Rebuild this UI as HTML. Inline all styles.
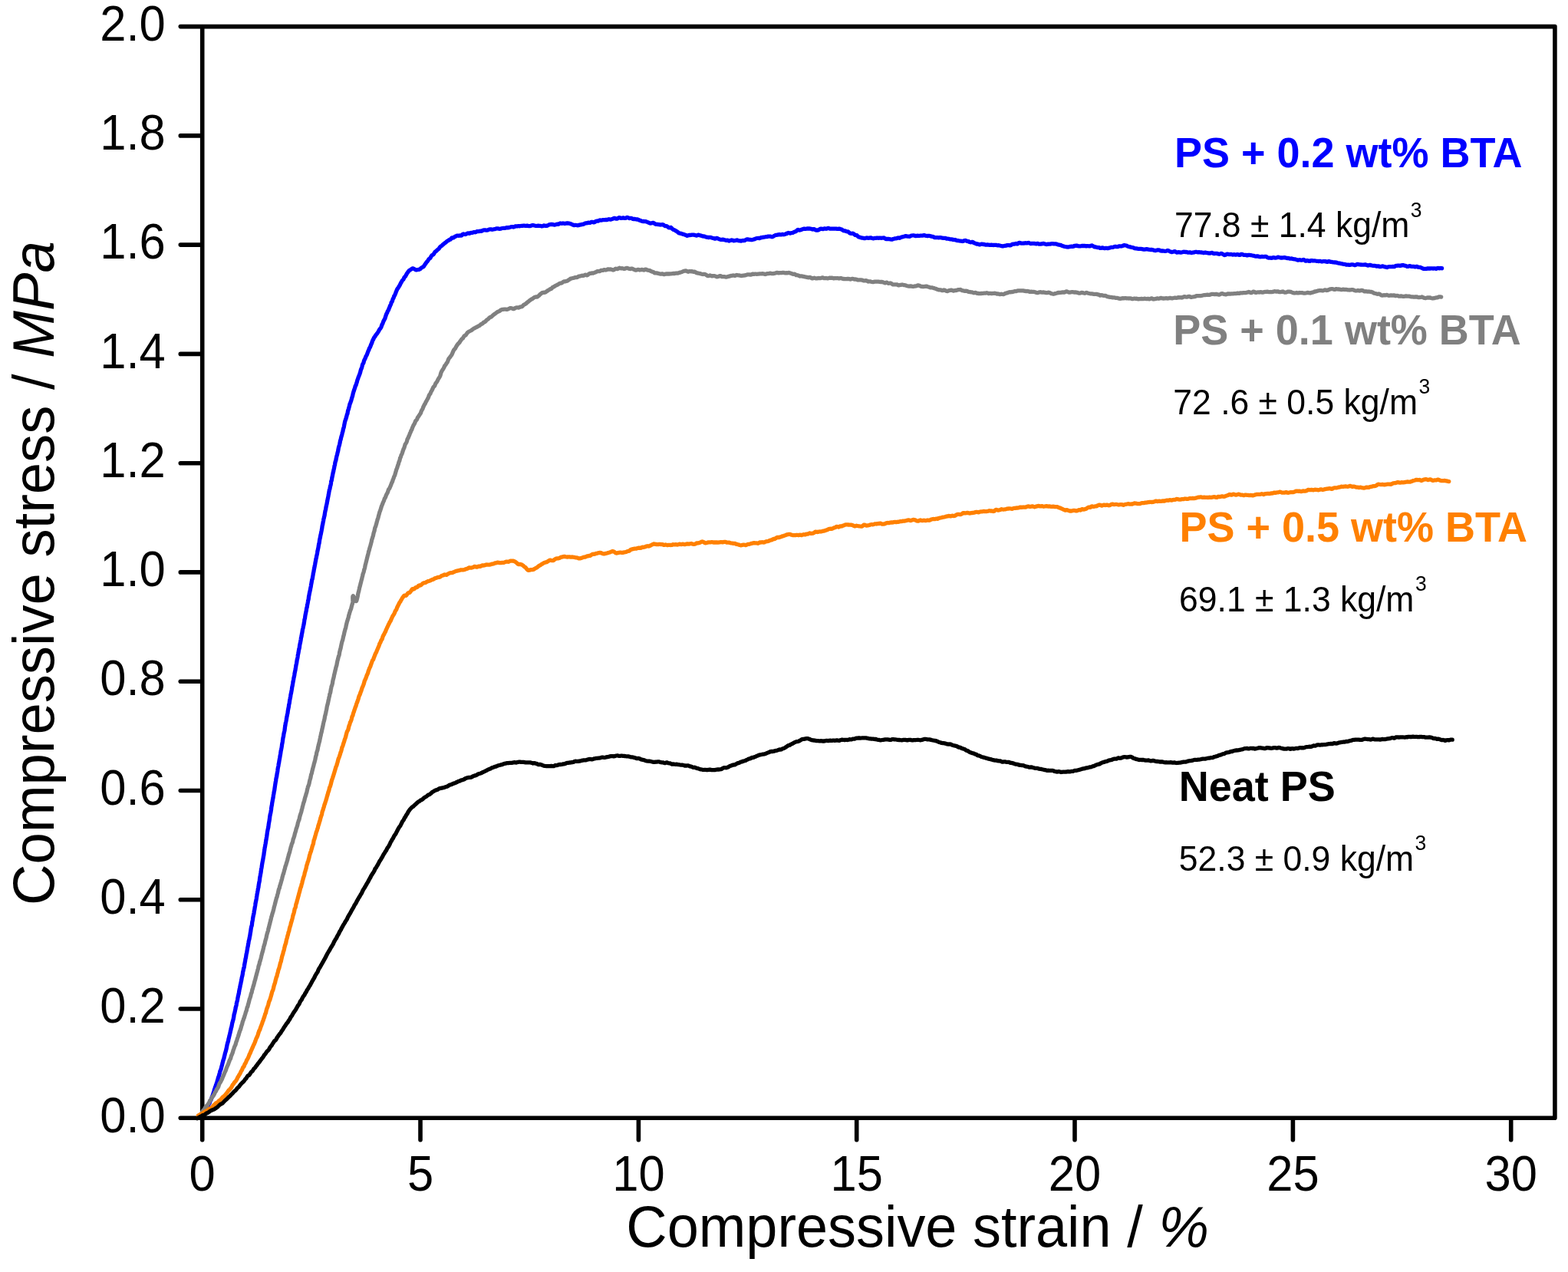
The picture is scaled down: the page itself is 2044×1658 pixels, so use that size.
<!DOCTYPE html>
<html lang="en">
<head>
<meta charset="utf-8">
<title>Compressive stress vs. compressive strain</title>
<style>
html,body{margin:0;padding:0;background:#fff;}
body{width:2044px;height:1658px;overflow:hidden;font-family:"Liberation Sans",sans-serif;}
svg{display:block;}
text{font-family:"Liberation Sans",sans-serif;fill:#000;}
.tick{font-size:61.5px;}
.ttl{font-size:73.9px;}
.lab{font-size:54.0px;font-weight:bold;}
.den{font-size:44.5px;}
.sup{font-size:26.5px;}
.it{font-style:italic;}
.ax{stroke:#000;stroke-width:5.6;fill:none;stroke-linecap:round;stroke-linejoin:round;}
.cv{fill:none;stroke-width:5.3;stroke-linejoin:round;stroke-linecap:round;}
</style>
</head>
<body>
<svg width="2044" height="1658" viewBox="0 0 2044 1658">
<rect x="0" y="0" width="2044" height="1658" fill="#ffffff"/>
<rect class="ax" x="263.7" y="34.6" width="1763.2" height="1422.7"/>
<g class="ax">
<line x1="235.3" y1="1457.3" x2="262.7" y2="1457.3"/>
<line x1="235.3" y1="1315.0" x2="262.7" y2="1315.0"/>
<line x1="235.3" y1="1172.8" x2="262.7" y2="1172.8"/>
<line x1="235.3" y1="1030.5" x2="262.7" y2="1030.5"/>
<line x1="235.3" y1="888.2" x2="262.7" y2="888.2"/>
<line x1="235.3" y1="745.9" x2="262.7" y2="745.9"/>
<line x1="235.3" y1="603.7" x2="262.7" y2="603.7"/>
<line x1="235.3" y1="461.4" x2="262.7" y2="461.4"/>
<line x1="235.3" y1="319.1" x2="262.7" y2="319.1"/>
<line x1="235.3" y1="176.9" x2="262.7" y2="176.9"/>
<line x1="235.3" y1="34.6" x2="262.7" y2="34.6"/>
<line x1="263.7" y1="1458.3" x2="263.7" y2="1485.7"/>
<line x1="548.0" y1="1458.3" x2="548.0" y2="1485.7"/>
<line x1="832.4" y1="1458.3" x2="832.4" y2="1485.7"/>
<line x1="1116.7" y1="1458.3" x2="1116.7" y2="1485.7"/>
<line x1="1401.0" y1="1458.3" x2="1401.0" y2="1485.7"/>
<line x1="1685.4" y1="1458.3" x2="1685.4" y2="1485.7"/>
<line x1="1969.7" y1="1458.3" x2="1969.7" y2="1485.7"/>
</g>
<g>
<path class="cv" stroke="#0000ff" d="M266.5,1450.9L267.0,1449.9L267.6,1448.2L268.1,1446.8L268.7,1446.2L269.2,1445.4L269.8,1444.3L270.3,1443.5L270.8,1442.4L271.4,1440.9L271.9,1439.7L272.4,1438.9L273.0,1438.3L273.5,1437.0L273.9,1435.4L274.4,1434.3L274.9,1433.9L275.3,1433.1L275.7,1431.5L276.2,1430.2L276.6,1429.3L277.0,1428.2L277.4,1427.3L277.7,1426.4L278.1,1425.0L278.5,1423.7L278.9,1422.5L279.3,1421.1L279.6,1419.8L280.0,1418.7L280.4,1417.5L280.8,1416.4L281.2,1415.3L281.5,1414.2L281.9,1413.2L282.3,1412.1L282.6,1411.2L283.0,1410.0L283.4,1408.6L283.7,1407.6L284.1,1406.3L284.4,1404.8L284.8,1403.8L285.1,1403.1L285.5,1401.9L285.8,1400.5L286.2,1399.4L286.5,1398.1L286.8,1396.5L287.2,1395.5L287.5,1395.0L287.8,1394.2L288.2,1393.1L288.5,1391.8L288.8,1390.4L289.1,1389.4L289.5,1388.2L289.8,1386.7L290.1,1385.5L290.4,1384.3L290.7,1383.1L291.0,1382.2L291.4,1380.9L291.7,1380.0L292.0,1379.2L292.3,1377.5L292.6,1376.3L292.9,1375.4L293.2,1373.8L293.5,1372.6L293.8,1371.8L294.1,1370.8L294.4,1369.7L294.7,1368.6L295.0,1367.6L295.2,1366.5L295.5,1364.9L295.8,1363.3L296.1,1361.7L296.4,1360.6L296.7,1359.7L297.0,1358.5L297.2,1358.0L297.5,1357.1L297.8,1355.2L298.1,1353.7L298.4,1352.9L298.6,1351.9L298.9,1350.5L299.2,1349.3L299.5,1348.1L299.7,1347.2L300.0,1346.2L300.3,1344.7L300.5,1343.6L300.8,1342.7L301.1,1341.4L301.3,1340.1L301.6,1339.2L301.9,1338.3L302.1,1337.0L302.4,1335.4L302.7,1333.7L302.9,1332.8L303.2,1332.1L303.5,1330.9L303.7,1329.9L304.0,1329.3L304.2,1328.2L304.5,1326.7L304.8,1325.2L305.0,1323.1L305.3,1321.8L305.5,1321.3L305.8,1320.4L306.0,1319.3L306.3,1318.1L306.5,1316.9L306.8,1315.8L307.1,1314.3L307.3,1312.8L307.6,1311.9L307.8,1311.2L308.1,1310.1L308.3,1308.4L308.6,1307.1L308.8,1306.0L309.1,1305.1L309.3,1304.4L309.6,1302.9L309.8,1301.4L310.0,1300.4L310.3,1299.2L310.5,1297.7L310.8,1296.8L311.0,1296.1L311.3,1294.9L311.5,1293.3L311.8,1291.9L312.0,1290.5L312.2,1289.3L312.5,1288.6L312.7,1287.6L313.0,1286.1L313.2,1284.5L313.4,1283.5L313.7,1282.7L313.9,1281.5L314.1,1280.3L314.4,1279.3L314.6,1278.2L314.9,1276.6L315.1,1275.2L315.3,1273.9L315.6,1272.9L315.8,1272.2L316.0,1271.2L316.3,1269.7L316.5,1268.0L316.7,1266.8L316.9,1265.9L317.2,1264.9L317.4,1263.7L317.6,1262.5L317.9,1261.8L318.1,1261.2L318.3,1260.1L318.5,1258.7L318.8,1257.1L319.0,1255.8L319.2,1254.5L319.5,1253.4L319.7,1252.0L319.9,1250.5L320.1,1249.5L320.4,1248.6L320.6,1247.5L320.8,1246.0L321.0,1244.6L321.2,1243.4L321.5,1242.4L321.7,1241.6L321.9,1240.4L322.1,1239.1L322.4,1237.6L322.6,1236.0L322.8,1234.8L323.0,1234.3L323.2,1233.4L323.4,1231.7L323.7,1230.4L323.9,1229.2L324.1,1227.6L324.3,1226.4L324.5,1225.7L324.8,1224.7L325.0,1223.8L325.2,1222.9L325.4,1221.6L325.6,1220.5L325.8,1219.8L326.0,1218.3L326.3,1216.3L326.5,1215.2L326.7,1214.3L326.9,1212.7L327.1,1211.2L327.3,1209.9L327.5,1208.7L327.7,1207.8L328.0,1207.2L328.2,1206.6L328.4,1205.5L328.6,1203.5L328.8,1201.8L329.0,1200.9L329.2,1200.0L329.4,1198.9L329.6,1197.4L329.8,1196.0L330.0,1194.9L330.3,1193.5L330.5,1192.5L330.7,1191.8L330.9,1191.0L331.1,1189.6L331.3,1187.8L331.5,1186.9L331.7,1186.1L331.9,1184.8L332.1,1183.5L332.3,1182.2L332.5,1181.3L332.7,1180.1L332.9,1178.5L333.1,1177.2L333.3,1176.2L333.5,1175.2L333.7,1174.3L333.9,1173.3L334.1,1172.3L334.3,1171.1L334.5,1169.5L334.8,1167.9L335.0,1166.5L335.2,1165.2L335.4,1164.3L335.6,1163.2L335.8,1162.0L336.0,1161.0L336.2,1159.8L336.4,1158.5L336.6,1157.6L336.8,1157.0L337.0,1155.7L337.2,1153.9L337.4,1152.5L337.6,1151.4L337.8,1150.5L338.0,1149.7L338.2,1148.7L338.4,1147.6L338.5,1146.3L338.7,1144.6L338.9,1143.2L339.1,1142.2L339.3,1141.2L339.5,1140.0L339.7,1138.9L339.9,1138.0L340.1,1136.8L340.3,1135.2L340.5,1133.4L340.7,1132.2L340.9,1131.6L341.1,1130.4L341.3,1128.8L341.5,1127.5L341.7,1126.2L341.9,1125.0L342.1,1124.0L342.3,1122.9L342.5,1121.9L342.7,1120.9L342.9,1119.8L343.1,1118.6L343.3,1117.4L343.5,1116.1L343.7,1115.2L343.9,1114.2L344.0,1113.0L344.2,1111.6L344.4,1110.2L344.6,1109.0L344.8,1107.8L345.0,1106.0L345.2,1104.7L345.4,1104.1L345.6,1102.8L345.8,1101.4L346.0,1100.5L346.2,1099.5L346.4,1098.3L346.6,1096.8L346.8,1095.5L347.0,1094.6L347.2,1093.4L347.3,1092.4L347.5,1091.6L347.7,1090.4L347.9,1088.9L348.1,1087.4L348.3,1086.0L348.5,1084.5L348.7,1083.4L348.9,1082.3L349.1,1081.2L349.3,1080.3L349.5,1079.5L349.7,1078.8L349.9,1077.4L350.1,1075.4L350.3,1074.2L350.4,1073.2L350.6,1072.3L350.8,1071.3L351.0,1070.2L351.2,1069.0L351.4,1067.7L351.6,1065.9L351.8,1064.1L352.0,1063.0L352.2,1062.2L352.4,1061.1L352.6,1060.2L352.8,1059.5L353.0,1058.4L353.2,1057.1L353.4,1056.0L353.6,1054.7L353.7,1053.2L353.9,1051.9L354.1,1050.6L354.3,1049.9L354.5,1048.8L354.7,1046.9L354.9,1045.7L355.1,1044.9L355.3,1043.6L355.5,1042.3L355.7,1041.6L355.9,1040.6L356.1,1039.5L356.3,1038.0L356.5,1036.3L356.7,1035.4L356.9,1034.4L357.1,1032.8L357.3,1031.7L357.5,1031.0L357.7,1030.1L357.9,1028.6L358.1,1027.2L358.2,1026.4L358.4,1025.1L358.6,1023.6L358.8,1022.4L359.0,1021.1L359.2,1019.7L359.4,1018.9L359.6,1017.9L359.8,1016.0L360.0,1014.5L360.2,1014.0L360.4,1013.3L360.6,1012.4L360.8,1011.2L361.0,1009.5L361.2,1008.3L361.4,1007.4L361.6,1006.5L361.8,1005.1L362.0,1003.2L362.2,1001.7L362.4,1000.6L362.6,999.6L362.8,998.8L363.0,997.6L363.2,996.1L363.4,995.1L363.6,994.4L363.8,993.1L364.0,991.7L364.2,990.6L364.4,989.5L364.6,988.5L364.8,987.4L365.0,986.0L365.2,984.8L365.4,983.8L365.6,982.7L365.8,981.4L366.0,979.9L366.2,978.5L366.5,977.3L366.7,976.1L366.9,975.2L367.1,974.1L367.3,972.9L367.5,971.4L367.7,969.9L367.9,969.0L368.1,968.2L368.3,966.9L368.5,965.3L368.7,963.9L368.9,962.5L369.1,961.2L369.3,960.8L369.5,959.9L369.7,958.3L369.9,956.8L370.1,955.7L370.3,955.0L370.5,953.9L370.8,952.9L371.0,952.0L371.2,950.4L371.4,948.5L371.6,947.1L371.8,946.1L372.0,944.8L372.2,943.3L372.4,942.1L372.6,941.4L372.8,940.6L373.0,939.7L373.2,938.7L373.4,937.4L373.7,935.5L373.9,934.2L374.1,933.6L374.3,932.4L374.5,931.1L374.7,930.4L374.9,929.7L375.1,928.3L375.3,926.7L375.5,925.4L375.7,924.4L375.9,923.3L376.2,922.2L376.4,920.8L376.6,919.2L376.8,917.9L377.0,917.3L377.2,916.6L377.4,915.2L377.6,913.7L377.8,912.1L378.1,910.7L378.3,909.6L378.5,908.9L378.7,907.7L378.9,906.1L379.1,904.8L379.3,904.2L379.5,903.7L379.7,902.2L380.0,900.7L380.2,899.6L380.4,898.4L380.6,896.9L380.8,895.4L381.0,894.6L381.2,894.0L381.4,892.6L381.7,890.9L381.9,889.5L382.1,888.6L382.3,887.5L382.5,886.4L382.7,885.4L382.9,884.0L383.1,882.9L383.4,882.0L383.6,880.9L383.8,879.7L384.0,878.2L384.2,876.9L384.4,875.9L384.6,875.0L384.9,873.9L385.1,872.6L385.3,871.2L385.5,870.2L385.7,868.8L385.9,867.3L386.2,866.1L386.4,865.3L386.6,864.3L386.8,863.0L387.0,861.7L387.2,860.2L387.4,859.3L387.7,858.4L387.9,857.2L388.1,855.8L388.3,854.1L388.5,853.1L388.7,852.3L389.0,850.8L389.2,849.5L389.4,848.3L389.6,847.0L389.8,846.3L390.0,845.5L390.3,844.3L390.5,842.7L390.7,841.1L390.9,840.0L391.1,839.1L391.4,838.1L391.6,836.9L391.8,835.8L392.0,834.9L392.2,833.5L392.4,831.7L392.7,830.6L392.9,830.0L393.1,828.8L393.3,827.3L393.5,826.1L393.8,825.0L394.0,823.8L394.2,822.5L394.4,821.1L394.6,819.9L394.9,819.1L395.1,818.2L395.3,816.9L395.5,816.1L395.7,815.2L396.0,814.0L396.2,812.8L396.4,811.5L396.6,810.2L396.8,808.6L397.1,807.1L397.3,806.4L397.5,805.6L397.7,804.0L397.9,802.6L398.2,801.1L398.4,800.0L398.6,799.1L398.8,798.1L399.0,797.1L399.3,795.9L399.5,794.1L399.7,792.8L399.9,792.3L400.2,791.5L400.4,789.9L400.6,788.4L400.8,787.7L401.0,786.8L401.3,785.1L401.5,783.6L401.7,782.7L401.9,782.0L402.2,780.9L402.4,778.8L402.6,777.2L402.8,776.6L403.0,775.4L403.3,773.7L403.5,772.8L403.7,772.1L403.9,770.9L404.2,769.8L404.4,768.7L404.6,767.6L404.8,766.4L405.1,765.3L405.3,764.1L405.5,762.6L405.7,761.5L405.9,760.5L406.2,759.0L406.4,757.6L406.6,756.3L406.8,755.4L407.1,754.9L407.3,753.9L407.5,752.8L407.7,751.3L408.0,749.7L408.2,748.4L408.4,747.3L408.6,746.3L408.9,745.1L409.1,743.6L409.3,742.5L409.5,741.5L409.8,740.2L410.0,739.0L410.2,738.1L410.4,736.9L410.7,735.5L410.9,734.2L411.1,733.0L411.3,732.0L411.6,730.6L411.8,729.0L412.0,728.2L412.3,727.4L412.5,726.1L412.7,724.8L412.9,723.9L413.2,722.9L413.4,721.8L413.6,720.7L413.8,719.2L414.1,717.9L414.3,716.8L414.5,715.9L414.7,714.8L415.0,713.5L415.2,712.1L415.4,710.7L415.7,709.4L415.9,708.4L416.1,707.8L416.3,706.4L416.6,704.1L416.8,702.8L417.0,702.3L417.2,701.3L417.5,699.9L417.7,698.6L417.9,697.4L418.2,696.4L418.4,695.4L418.6,694.4L418.8,693.3L419.1,692.0L419.3,690.9L419.5,689.7L419.8,688.2L420.0,686.4L420.2,685.3L420.4,684.6L420.7,683.3L420.9,682.0L421.1,680.9L421.4,679.7L421.6,678.6L421.8,677.1L422.0,676.1L422.3,675.3L422.5,674.1L422.7,673.2L423.0,672.3L423.2,671.2L423.4,669.5L423.7,667.7L423.9,666.5L424.1,665.9L424.3,665.1L424.6,663.8L424.8,662.3L425.0,661.2L425.3,660.0L425.5,659.0L425.7,657.9L426.0,656.9L426.2,655.7L426.4,654.5L426.7,653.2L426.9,652.0L427.1,650.7L427.4,649.6L427.6,648.4L427.9,647.0L428.1,645.7L428.3,644.6L428.6,643.3L428.8,641.9L429.0,640.8L429.3,639.4L429.5,638.3L429.8,637.6L430.0,636.7L430.2,635.5L430.5,634.1L430.7,633.1L431.0,632.4L431.2,631.5L431.5,629.6L431.7,627.6L431.9,626.7L432.2,626.5L432.4,625.7L432.7,623.7L432.9,622.2L433.2,621.3L433.4,620.0L433.7,618.6L433.9,617.5L434.2,616.2L434.4,615.2L434.7,614.3L434.9,612.7L435.2,611.7L435.4,611.0L435.7,609.5L435.9,607.8L436.2,606.9L436.5,605.9L436.7,604.3L437.0,602.9L437.2,601.7L437.5,600.9L437.8,600.3L438.0,599.0L438.3,597.6L438.5,596.5L438.8,595.0L439.1,593.9L439.3,593.3L439.6,592.2L439.9,590.7L440.1,589.8L440.4,589.0L440.7,587.6L441.0,586.1L441.2,584.5L441.5,583.2L441.8,582.1L442.0,581.4L442.3,580.5L442.6,579.3L442.9,577.9L443.2,576.6L443.4,575.1L443.7,574.1L444.0,573.3L444.3,572.2L444.6,570.6L444.9,569.4L445.1,568.8L445.4,567.9L445.7,566.8L446.0,565.5L446.3,564.0L446.6,563.2L446.9,562.3L447.2,560.6L447.5,559.1L447.8,558.2L448.1,557.4L448.4,555.9L448.7,554.2L449.0,552.8L449.3,551.3L449.6,549.7L449.9,548.6L450.2,547.9L450.5,547.1L450.8,546.2L451.1,545.1L451.4,544.3L451.7,543.3L452.1,541.5L452.4,540.2L452.7,539.9L453.0,539.1L453.3,537.0L453.6,535.3L454.0,534.4L454.3,533.6L454.6,532.5L454.9,531.1L455.3,529.9L455.6,528.7L455.9,527.1L456.3,526.1L456.6,525.6L456.9,524.6L457.3,523.4L457.6,522.7L457.9,521.6L458.3,520.2L458.6,519.0L459.0,517.9L459.3,516.8L459.7,515.6L460.0,513.9L460.4,512.3L460.7,511.3L461.1,510.2L461.4,509.1L461.8,508.1L462.1,506.9L462.5,505.9L462.9,504.7L463.2,503.1L463.6,502.5L463.9,502.3L464.3,501.1L464.7,499.5L465.1,498.6L465.4,497.5L465.8,495.7L466.2,494.6L466.6,493.8L466.9,492.6L467.3,491.4L467.7,490.6L468.1,489.5L468.5,488.5L468.9,487.6L469.2,486.5L469.6,485.4L470.0,483.7L470.4,482.1L470.8,481.1L471.2,480.3L471.6,479.1L472.0,477.6L472.4,475.9L472.8,474.7L473.2,474.1L473.6,473.5L474.1,472.2L474.5,470.3L475.0,469.2L475.4,468.4L475.9,467.5L476.4,466.3L476.9,464.9L477.4,463.8L477.8,463.4L478.3,462.4L478.8,460.9L479.3,459.6L479.8,458.3L480.2,457.2L480.7,456.4L481.1,455.1L481.6,453.7L482.0,453.1L482.5,452.5L482.9,451.4L483.4,450.0L483.8,448.9L484.3,448.0L484.8,446.7L485.3,445.1L485.7,443.9L486.3,443.0L486.8,442.1L487.3,440.8L487.9,439.6L488.5,439.1L489.2,438.0L489.9,436.7L490.5,436.1L491.2,435.3L491.9,434.2L492.6,433.2L493.3,432.1L494.0,430.7L494.7,429.4L495.3,428.7L495.9,428.0L496.5,427.1L497.0,426.1L497.5,424.5L498.0,423.1L498.5,422.4L499.0,421.2L499.5,419.8L499.9,418.8L500.4,417.8L500.9,416.9L501.3,416.1L501.8,415.3L502.2,413.9L502.7,412.3L503.2,410.9L503.6,409.5L504.1,408.6L504.6,407.8L505.0,406.6L505.5,405.3L505.9,404.8L506.4,404.1L506.9,402.7L507.3,401.6L507.8,400.5L508.3,399.1L508.7,398.2L509.2,397.4L509.7,396.1L510.1,394.3L510.6,393.5L511.1,393.3L511.5,391.9L512.0,390.1L512.4,389.3L512.9,388.6L513.4,387.1L513.8,385.8L514.3,385.4L514.8,384.4L515.3,383.0L515.8,381.9L516.2,380.6L516.7,379.5L517.2,378.4L517.7,377.0L518.3,376.3L518.8,375.6L519.4,374.6L519.9,373.7L520.5,372.9L521.1,371.9L521.8,370.4L522.4,369.1L523.1,368.1L523.7,366.8L524.4,365.7L525.1,365.0L525.7,364.4L526.4,363.1L527.0,361.6L527.7,360.9L528.3,360.3L528.9,359.3L529.6,358.3L530.2,356.9L530.9,355.8L531.6,354.9L532.4,353.8L533.2,352.8L534.1,352.2L535.0,351.7L536.0,351.0L537.0,350.2L538.1,349.8L539.3,350.2L540.2,350.7L541.2,351.4L542.3,351.9L543.5,351.8L544.7,351.5L545.8,351.3L546.9,351.1L548.0,350.4L549.0,349.4L550.1,348.6L551.0,348.2L552.0,347.7L552.8,346.6L553.6,345.2L554.3,344.2L555.0,343.4L555.6,342.3L556.3,341.4L557.0,340.9L557.7,339.8L558.5,338.6L559.2,337.6L560.0,337.0L560.8,336.4L561.6,334.9L562.4,333.6L563.2,332.7L564.0,332.3L564.8,331.8L565.7,330.6L566.5,329.2L567.3,328.2L568.1,327.6L569.0,327.0L569.8,326.1L570.6,325.3L571.5,324.8L572.3,323.9L573.1,322.7L574.0,321.5L574.9,320.8L575.8,320.4L576.7,319.4L577.6,318.7L578.5,317.9L579.4,317.1L580.3,316.5L581.3,315.8L582.2,315.0L583.1,314.1L584.1,313.7L585.1,313.1L586.1,312.3L587.1,312.1L588.1,311.0L589.1,309.9L590.2,310.0L591.3,309.9L592.4,308.8L593.5,308.2L594.7,307.7L595.8,307.1L597.0,307.2L598.1,307.3L599.3,306.9L600.5,307.2L601.7,306.9L602.9,305.6L604.0,304.9L605.2,305.3L606.4,305.5L607.6,305.2L608.7,304.4L609.9,304.0L611.1,304.1L612.2,304.3L613.4,303.6L614.6,303.3L615.7,303.4L616.9,302.8L618.1,302.5L619.3,302.8L620.4,302.4L621.6,301.7L622.8,301.6L624.0,301.7L625.1,301.3L626.3,301.2L627.5,301.3L628.7,300.8L629.9,300.0L631.1,299.8L632.3,299.9L633.4,300.0L634.6,300.2L635.8,300.0L637.0,299.3L638.2,298.9L639.4,298.9L640.6,299.0L641.8,299.3L643.0,299.0L644.1,298.7L645.3,298.6L646.5,298.1L647.7,297.8L648.9,297.9L650.1,298.2L651.3,298.3L652.5,298.2L653.7,297.8L654.9,297.5L656.1,297.3L657.3,297.3L658.5,297.3L659.7,296.9L660.9,296.7L662.1,296.9L663.3,296.7L664.4,296.3L665.6,296.0L666.8,295.6L668.0,295.6L669.2,296.0L670.4,295.7L671.6,294.9L672.8,294.8L674.0,295.0L675.1,294.7L676.3,294.6L677.5,294.8L678.7,294.5L679.9,294.3L681.1,294.3L682.3,294.1L683.5,294.1L684.7,294.3L685.9,294.3L687.1,294.1L688.3,294.4L689.5,294.6L690.7,294.7L691.9,294.4L693.1,293.9L694.3,293.7L695.5,293.7L696.7,294.0L697.9,294.3L699.1,294.5L700.3,294.3L701.5,294.2L702.7,294.4L703.9,294.3L705.1,294.5L706.3,294.9L707.5,294.7L708.7,294.0L709.9,294.1L711.1,294.4L712.3,294.4L713.5,294.1L714.7,293.5L715.9,292.8L717.1,292.6L718.3,292.5L719.5,292.4L720.6,292.6L721.8,292.9L723.0,293.1L724.2,292.8L725.4,292.4L726.6,292.2L727.8,292.3L729.0,291.7L730.2,291.0L731.4,291.2L732.6,291.3L733.8,291.0L735.0,291.2L736.2,291.5L737.4,291.2L738.5,291.0L739.7,291.0L740.9,291.0L742.1,291.2L743.3,291.6L744.4,291.9L745.6,292.5L746.7,293.1L747.9,293.5L749.1,293.5L750.3,293.3L751.5,293.5L752.7,293.8L753.9,293.7L755.1,293.2L756.2,293.0L757.4,292.9L758.6,292.5L759.8,292.4L761.0,292.1L762.1,291.4L763.3,290.8L764.4,290.9L765.6,290.7L766.8,290.2L767.9,290.4L769.1,290.4L770.2,289.8L771.4,289.3L772.6,289.3L773.7,289.8L774.9,289.6L776.1,288.9L777.3,288.2L778.4,288.1L779.6,288.1L780.8,287.4L782.0,287.0L783.2,287.1L784.4,287.1L785.6,286.7L786.7,286.7L787.9,286.7L789.1,286.5L790.3,286.4L791.5,286.5L792.7,286.1L793.9,285.7L795.1,286.1L796.3,286.1L797.5,285.6L798.7,285.3L799.9,284.8L801.1,284.3L802.3,284.7L803.5,285.2L804.7,285.1L805.9,284.3L807.1,283.6L808.3,283.8L809.4,284.4L810.6,284.4L811.8,283.9L813.0,284.0L814.2,284.4L815.4,284.4L816.6,283.7L817.8,283.3L819.0,283.9L820.2,284.5L821.4,284.4L822.6,284.3L823.8,284.7L825.0,285.4L826.1,285.5L827.3,285.4L828.5,285.7L829.7,286.0L830.8,285.9L832.0,286.2L833.2,286.9L834.3,287.3L835.5,287.8L836.7,288.2L837.8,288.5L839.0,288.5L840.2,288.6L841.3,288.7L842.5,288.9L843.7,289.4L844.8,289.8L846.0,290.4L847.2,291.0L848.4,291.0L849.5,290.8L850.7,290.4L851.9,290.5L853.1,291.2L854.2,292.0L855.4,292.4L856.6,292.4L857.8,292.5L858.9,292.7L860.1,292.9L861.3,293.0L862.5,292.8L863.7,292.7L864.9,293.1L866.0,294.0L867.2,294.7L868.3,294.7L869.5,294.9L870.6,295.9L871.6,296.6L872.7,296.9L873.7,296.6L874.7,296.5L875.8,297.6L876.8,298.7L877.8,299.4L878.9,299.7L879.9,300.1L881.0,300.9L882.1,301.6L883.2,302.3L884.3,303.3L885.4,303.9L886.5,304.1L887.6,304.3L888.8,304.8L889.9,305.1L891.1,305.4L892.2,305.8L893.4,306.2L894.6,306.7L895.8,307.3L897.0,306.9L898.2,306.4L899.4,306.5L900.6,306.4L901.8,306.2L903.0,306.1L904.2,306.1L905.4,306.3L906.6,306.7L907.8,307.1L909.0,306.8L910.2,306.2L911.3,306.4L912.5,306.9L913.7,307.1L914.9,307.5L916.1,307.9L917.3,308.0L918.5,308.1L919.6,308.6L920.8,309.1L922.0,309.2L923.2,309.5L924.4,309.5L925.6,309.3L926.8,309.5L927.9,309.9L929.1,310.3L930.3,310.5L931.5,311.0L932.7,311.0L933.9,310.5L935.1,310.5L936.2,311.1L937.4,311.7L938.6,312.1L939.8,312.3L941.0,312.3L942.1,312.2L943.3,312.4L944.5,312.7L945.7,313.1L946.9,313.3L948.1,313.1L949.3,313.5L950.5,314.0L951.7,313.6L952.9,313.1L954.1,313.0L955.3,313.3L956.5,313.8L957.7,313.7L958.9,313.5L960.1,313.1L961.3,313.0L962.5,313.6L963.7,313.8L964.9,313.9L966.0,314.1L967.2,313.8L968.4,313.5L969.6,313.6L970.8,313.4L972.0,312.7L973.2,312.1L974.4,311.8L975.6,312.2L976.7,312.4L977.9,312.3L979.1,312.6L980.3,312.6L981.5,312.3L982.7,311.9L983.9,311.6L985.0,311.0L986.2,310.7L987.4,310.5L988.6,310.3L989.8,310.6L990.9,310.3L992.1,309.7L993.3,309.5L994.5,309.4L995.7,309.2L996.9,309.0L998.1,308.7L999.3,308.6L1000.4,308.5L1001.6,308.1L1002.8,308.1L1004.0,308.2L1005.2,308.4L1006.4,308.8L1007.6,308.5L1008.8,307.6L1010.0,307.0L1011.2,306.4L1012.4,306.3L1013.5,306.2L1014.7,305.8L1015.9,305.6L1017.1,305.9L1018.3,305.9L1019.5,305.5L1020.6,305.5L1021.8,305.8L1023.0,305.5L1024.2,304.9L1025.3,304.6L1026.5,303.9L1027.7,303.5L1028.9,303.8L1030.0,304.1L1031.2,303.8L1032.4,303.5L1033.5,303.3L1034.7,302.7L1035.8,302.2L1037.0,302.0L1038.1,301.1L1039.2,300.0L1040.3,299.5L1041.4,299.9L1042.5,300.1L1043.7,299.7L1044.9,299.2L1046.1,298.8L1047.2,298.3L1048.4,298.1L1049.6,298.3L1050.8,298.3L1052.0,298.0L1053.2,298.0L1054.4,298.0L1055.6,298.0L1056.8,298.2L1058.0,298.6L1059.1,299.0L1060.3,298.7L1061.5,298.7L1062.7,299.6L1063.9,300.1L1065.1,300.0L1066.3,300.0L1067.4,299.6L1068.6,298.7L1069.8,298.1L1071.0,298.2L1072.2,298.5L1073.4,298.5L1074.6,297.9L1075.8,298.0L1077.0,298.3L1078.2,297.9L1079.4,297.3L1080.6,297.6L1081.8,298.1L1083.0,298.2L1084.2,298.1L1085.4,298.2L1086.6,298.2L1087.8,298.2L1088.9,298.1L1090.1,298.2L1091.3,298.4L1092.5,298.3L1093.7,298.1L1094.9,298.4L1096.0,298.7L1097.2,299.0L1098.3,299.8L1099.5,300.7L1100.6,300.9L1101.8,300.9L1102.9,301.4L1104.0,301.8L1105.2,301.8L1106.3,302.5L1107.4,303.6L1108.5,304.2L1109.6,304.4L1110.7,304.3L1111.8,304.2L1112.8,304.8L1113.9,305.7L1115.0,306.5L1116.1,306.7L1117.1,306.7L1118.0,307.7L1119.0,308.8L1120.2,309.0L1121.3,309.4L1122.5,309.9L1123.7,310.1L1124.9,310.2L1126.1,310.6L1127.3,310.7L1128.5,310.3L1129.7,310.0L1130.9,310.1L1132.1,310.3L1133.3,310.2L1134.5,309.9L1135.7,310.0L1136.9,310.4L1138.1,310.8L1139.3,310.6L1140.5,310.3L1141.7,310.4L1142.9,310.2L1144.1,310.2L1145.3,310.4L1146.5,310.2L1147.7,310.2L1148.9,310.3L1150.0,310.2L1151.2,310.1L1152.4,310.0L1153.6,310.7L1154.8,311.5L1155.9,311.5L1157.1,311.5L1158.3,311.5L1159.5,311.6L1160.7,311.9L1161.9,312.1L1163.1,312.0L1164.3,311.5L1165.5,311.2L1166.6,310.9L1167.8,310.8L1169.0,310.7L1170.1,310.1L1171.3,310.0L1172.5,310.3L1173.6,309.8L1174.8,309.2L1176.0,308.9L1177.2,308.6L1178.3,308.3L1179.5,307.9L1180.7,307.7L1181.9,307.9L1183.1,308.1L1184.3,308.2L1185.5,308.3L1186.6,307.9L1187.8,307.2L1189.0,307.0L1190.2,306.8L1191.4,306.9L1192.6,307.4L1193.8,307.6L1195.0,307.3L1196.2,307.2L1197.4,307.3L1198.6,307.3L1199.8,307.2L1201.0,307.1L1202.2,307.2L1203.4,306.9L1204.6,306.7L1205.8,306.9L1207.0,307.3L1208.2,307.5L1209.4,307.5L1210.6,307.4L1211.8,307.4L1213.0,307.8L1214.2,308.2L1215.3,308.3L1216.5,308.6L1217.7,309.3L1218.8,309.7L1220.0,309.6L1221.2,309.6L1222.4,309.7L1223.6,309.8L1224.8,309.6L1226.0,309.6L1227.2,310.0L1228.4,310.2L1229.6,310.4L1230.8,310.4L1232.0,310.3L1233.2,310.8L1234.3,311.2L1235.5,311.2L1236.7,311.3L1237.9,311.6L1239.0,311.8L1240.2,311.8L1241.4,312.0L1242.5,312.5L1243.7,312.7L1244.9,312.5L1246.1,312.9L1247.2,313.5L1248.4,313.7L1249.6,313.7L1250.8,314.0L1252.0,314.2L1253.2,314.2L1254.4,314.5L1255.6,314.3L1256.8,313.8L1258.0,313.4L1259.2,313.6L1260.4,314.4L1261.6,314.5L1262.8,314.7L1263.9,315.4L1265.1,315.8L1266.3,315.6L1267.4,315.3L1268.6,315.7L1269.7,316.7L1270.9,317.1L1272.0,317.5L1273.2,318.0L1274.4,318.0L1275.6,318.3L1276.8,318.9L1278.0,318.6L1279.2,318.1L1280.4,318.2L1281.6,318.5L1282.8,318.4L1284.0,318.9L1285.2,319.2L1286.4,319.0L1287.6,319.0L1288.8,319.2L1290.0,319.4L1291.1,319.3L1292.3,319.1L1293.5,319.3L1294.7,319.5L1295.9,319.4L1297.1,319.4L1298.3,319.3L1299.5,319.6L1300.7,319.8L1301.9,319.7L1303.1,320.0L1304.3,320.3L1305.5,320.5L1306.7,320.9L1307.9,320.8L1309.1,320.4L1310.3,320.4L1311.5,320.2L1312.7,319.7L1313.8,319.6L1315.0,319.6L1316.2,319.8L1317.4,319.8L1318.6,319.0L1319.7,318.3L1320.9,318.1L1322.1,318.2L1323.3,317.9L1324.5,317.4L1325.7,318.0L1326.8,317.8L1328.0,316.5L1329.2,316.3L1330.4,316.9L1331.6,317.2L1332.8,317.2L1334.0,317.1L1335.2,317.0L1336.4,316.7L1337.6,316.8L1338.8,316.9L1340.0,316.6L1341.2,316.5L1342.4,317.1L1343.6,317.6L1344.8,317.4L1346.0,317.3L1347.2,317.4L1348.4,317.4L1349.6,317.7L1350.8,317.9L1352.0,317.5L1353.2,317.5L1354.4,318.1L1355.6,318.2L1356.8,318.0L1358.0,317.9L1359.2,317.6L1360.4,317.4L1361.6,317.8L1362.8,318.2L1364.0,318.5L1365.2,318.4L1366.4,318.1L1367.6,318.2L1368.8,318.2L1370.0,317.8L1371.2,317.6L1372.4,317.6L1373.6,317.8L1374.8,317.9L1376.0,317.9L1377.2,318.1L1378.3,318.5L1379.5,318.9L1380.7,319.2L1381.9,319.3L1383.0,319.6L1384.2,320.3L1385.3,320.6L1386.4,320.8L1387.5,321.3L1388.7,321.5L1389.9,321.8L1391.1,321.9L1392.3,322.0L1393.4,321.8L1394.6,321.5L1395.8,321.4L1397.0,321.2L1398.2,321.3L1399.4,321.1L1400.6,320.4L1401.8,320.4L1402.9,320.2L1404.1,320.2L1405.3,320.7L1406.5,320.9L1407.7,320.8L1408.9,320.8L1410.1,320.5L1411.3,320.4L1412.5,320.5L1413.7,320.4L1414.9,320.6L1416.1,320.9L1417.3,320.7L1418.5,320.7L1419.7,320.8L1420.9,320.8L1422.1,320.3L1423.3,319.9L1424.5,320.5L1425.7,321.2L1426.8,321.8L1428.0,321.9L1429.2,322.2L1430.4,322.6L1431.6,322.6L1432.8,322.7L1434.0,323.3L1435.2,323.4L1436.4,323.0L1437.6,323.0L1438.8,323.5L1440.0,323.7L1441.2,323.4L1442.4,323.3L1443.6,323.6L1444.8,323.5L1446.0,323.1L1447.2,322.9L1448.3,322.4L1449.5,322.3L1450.7,322.3L1451.9,321.9L1453.1,321.4L1454.3,321.4L1455.5,321.7L1456.7,321.7L1457.9,321.2L1459.1,320.8L1460.3,320.8L1461.5,321.0L1462.7,320.7L1463.9,320.2L1465.1,319.7L1466.3,319.7L1467.5,320.0L1468.6,320.2L1469.8,320.9L1471.0,321.3L1472.1,321.5L1473.3,322.0L1474.4,322.2L1475.6,322.5L1476.8,322.7L1477.9,323.0L1479.1,323.7L1480.3,323.8L1481.5,323.8L1482.7,324.2L1483.9,324.3L1485.1,324.4L1486.3,324.4L1487.5,324.4L1488.7,324.7L1489.9,324.9L1491.0,325.2L1492.2,325.2L1493.4,324.8L1494.6,324.7L1495.8,324.9L1497.0,325.2L1498.2,325.3L1499.4,325.5L1500.6,325.5L1501.8,325.5L1503.0,325.8L1504.2,326.2L1505.4,326.6L1506.6,326.6L1507.8,326.2L1509.0,325.9L1510.2,325.8L1511.4,326.1L1512.6,326.8L1513.7,327.0L1514.9,326.9L1516.1,327.0L1517.3,327.2L1518.5,327.3L1519.7,327.3L1520.9,326.9L1522.1,326.4L1523.3,326.8L1524.5,327.5L1525.7,328.1L1526.9,328.5L1528.1,328.5L1529.3,328.2L1530.5,327.8L1531.7,327.7L1532.9,328.5L1534.1,329.1L1535.3,328.9L1536.5,328.7L1537.7,328.9L1538.9,329.1L1540.1,329.0L1541.3,328.7L1542.5,328.3L1543.7,328.2L1544.9,328.5L1546.1,328.5L1547.3,328.6L1548.5,329.2L1549.7,329.1L1550.9,328.8L1552.1,329.3L1553.3,329.6L1554.5,329.2L1555.7,329.0L1556.9,328.9L1558.1,328.4L1559.3,328.3L1560.5,328.6L1561.7,328.8L1562.9,328.6L1564.1,328.8L1565.3,329.0L1566.5,329.0L1567.7,329.3L1568.9,329.6L1570.0,329.3L1571.2,329.1L1572.4,329.5L1573.6,329.7L1574.8,329.9L1576.0,330.0L1577.2,330.1L1578.4,329.9L1579.6,329.4L1580.8,329.7L1582.0,330.5L1583.2,330.5L1584.4,330.4L1585.6,330.4L1586.8,330.5L1588.0,331.0L1589.2,331.3L1590.4,331.0L1591.6,330.4L1592.8,330.6L1594.0,331.3L1595.2,332.0L1596.4,332.5L1597.6,332.2L1598.8,331.4L1600.0,331.2L1601.2,331.3L1602.4,331.7L1603.6,331.7L1604.8,331.4L1606.0,331.8L1607.2,332.1L1608.4,331.7L1609.6,331.9L1610.8,332.2L1612.0,331.9L1613.2,331.6L1614.4,332.0L1615.6,332.4L1616.8,332.1L1618.0,331.4L1619.2,331.4L1620.4,332.0L1621.6,332.4L1622.8,332.3L1624.0,332.3L1625.2,332.8L1626.4,332.8L1627.6,332.3L1628.8,332.4L1629.9,332.6L1631.1,332.7L1632.3,333.0L1633.5,333.3L1634.7,333.4L1635.9,334.0L1637.1,334.2L1638.3,333.9L1639.5,333.9L1640.7,334.2L1641.9,334.7L1643.1,334.8L1644.3,334.4L1645.5,334.4L1646.7,334.7L1647.9,334.6L1649.1,334.3L1650.3,334.4L1651.5,335.1L1652.7,335.9L1653.9,336.1L1655.1,336.1L1656.2,336.1L1657.4,336.3L1658.6,336.1L1659.8,335.6L1661.0,335.8L1662.2,336.1L1663.4,336.1L1664.6,335.7L1665.8,335.2L1667.0,335.4L1668.2,335.7L1669.4,336.0L1670.6,336.0L1671.8,336.0L1673.0,335.8L1674.2,335.6L1675.4,335.8L1676.6,336.2L1677.8,336.6L1679.0,336.5L1680.2,336.6L1681.4,337.2L1682.6,337.1L1683.8,337.0L1685.0,337.4L1686.1,337.7L1687.3,337.8L1688.5,337.9L1689.7,338.4L1690.9,338.9L1692.1,339.1L1693.3,338.9L1694.5,338.7L1695.7,339.1L1696.9,339.2L1698.1,338.8L1699.2,338.4L1700.4,338.9L1701.6,340.0L1702.8,340.0L1704.0,339.5L1705.2,339.8L1706.4,340.3L1707.6,340.3L1708.8,339.7L1710.0,339.5L1711.2,339.9L1712.4,339.9L1713.6,339.8L1714.8,340.0L1716.0,340.3L1717.2,340.3L1718.4,340.5L1719.6,340.5L1720.8,340.3L1722.0,340.7L1723.2,341.0L1724.4,340.7L1725.6,340.7L1726.8,340.7L1728.0,340.7L1729.2,341.2L1730.4,341.4L1731.6,340.7L1732.8,340.6L1734.0,341.3L1735.2,341.4L1736.4,341.5L1737.5,341.8L1738.7,341.9L1739.9,342.0L1741.1,342.0L1742.3,342.2L1743.5,342.7L1744.7,343.0L1745.9,343.1L1747.1,343.4L1748.2,343.7L1749.4,343.8L1750.6,344.1L1751.8,344.3L1753.0,344.4L1754.2,344.8L1755.3,345.2L1756.5,345.2L1757.7,345.1L1758.9,345.4L1760.1,345.3L1761.3,344.9L1762.5,344.8L1763.7,344.9L1764.9,345.3L1766.1,345.7L1767.3,345.4L1768.5,344.6L1769.7,344.4L1770.9,344.6L1772.1,344.8L1773.3,345.0L1774.5,345.0L1775.7,345.2L1776.9,345.2L1778.1,345.2L1779.3,344.9L1780.5,345.0L1781.7,345.6L1782.9,346.0L1784.0,345.9L1785.2,345.5L1786.4,345.5L1787.6,346.0L1788.8,346.2L1790.0,346.3L1791.2,346.3L1792.4,346.4L1793.6,346.9L1794.8,347.1L1796.0,346.8L1797.2,346.9L1798.4,347.6L1799.6,347.7L1800.8,347.3L1802.0,346.9L1803.2,347.1L1804.4,347.6L1805.6,347.9L1806.8,348.2L1808.0,348.5L1809.2,348.0L1810.4,347.7L1811.6,347.7L1812.8,347.7L1813.9,347.7L1815.1,347.5L1816.3,347.5L1817.5,347.7L1818.7,346.9L1819.9,346.3L1821.1,346.4L1822.3,346.2L1823.5,346.1L1824.7,346.4L1825.9,346.3L1827.1,345.8L1828.3,345.6L1829.5,345.7L1830.7,346.1L1831.9,346.3L1833.1,346.7L1834.3,347.4L1835.5,347.4L1836.7,346.8L1837.9,346.6L1839.1,347.2L1840.3,347.4L1841.4,347.4L1842.6,347.3L1843.8,347.6L1845.0,347.9L1846.2,347.4L1847.4,347.4L1848.6,348.2L1849.8,348.4L1850.9,348.3L1852.1,348.8L1853.3,349.2L1854.5,349.8L1855.7,350.4L1856.9,350.3L1858.1,350.3L1859.3,350.4L1860.5,350.0L1861.7,349.9L1862.9,350.0L1864.1,350.0L1865.3,349.9L1866.5,349.8L1867.7,350.0L1868.9,350.0L1870.1,349.8L1871.3,350.1L1872.5,350.3L1873.7,349.6L1874.9,349.4L1876.1,349.8L1877.3,349.6L1878.5,349.5L1879.6,349.7"/>
<path class="cv" stroke="#808080" d="M263.7,1449.1L264.4,1448.1L265.1,1447.1L265.9,1446.5L266.6,1445.5L267.3,1444.1L268.0,1443.0L268.8,1441.9L269.5,1441.2L270.2,1440.8L270.9,1439.8L271.6,1438.7L272.2,1437.7L272.9,1436.4L273.5,1435.1L274.2,1434.1L274.8,1433.6L275.4,1432.6L276.1,1430.9L276.7,1429.8L277.3,1429.3L277.9,1428.7L278.5,1427.7L279.1,1426.6L279.7,1425.3L280.3,1423.9L280.9,1423.1L281.5,1422.4L282.0,1421.1L282.6,1419.8L283.2,1419.2L283.7,1418.3L284.3,1417.3L284.8,1416.3L285.3,1414.6L285.9,1412.9L286.4,1411.7L286.9,1411.2L287.4,1410.5L288.0,1409.3L288.5,1408.3L289.0,1407.4L289.5,1406.3L290.0,1405.0L290.5,1403.8L290.9,1402.8L291.4,1401.8L291.9,1400.5L292.4,1399.2L292.9,1398.0L293.3,1397.1L293.8,1396.2L294.3,1395.1L294.7,1393.9L295.2,1392.4L295.6,1391.2L296.1,1390.3L296.5,1389.2L297.0,1388.2L297.4,1387.5L297.8,1386.2L298.3,1384.8L298.7,1383.8L299.1,1382.6L299.5,1381.5L300.0,1380.8L300.4,1380.1L300.8,1379.0L301.2,1377.2L301.6,1375.8L302.1,1375.1L302.5,1374.1L302.9,1372.9L303.3,1371.9L303.7,1370.5L304.1,1369.0L304.5,1367.9L304.9,1366.8L305.3,1365.6L305.7,1364.4L306.1,1363.5L306.5,1362.8L306.9,1361.9L307.3,1360.7L307.7,1358.9L308.1,1357.7L308.4,1357.2L308.8,1356.0L309.2,1354.5L309.6,1353.2L310.0,1352.2L310.4,1351.1L310.7,1350.1L311.1,1349.0L311.5,1347.6L311.9,1346.1L312.3,1344.9L312.6,1343.9L313.0,1343.0L313.4,1342.1L313.8,1340.9L314.1,1339.8L314.5,1338.2L314.9,1336.8L315.2,1336.0L315.6,1335.0L315.9,1333.5L316.3,1331.9L316.7,1330.7L317.0,1330.1L317.4,1329.1L317.7,1327.6L318.1,1327.0L318.5,1326.1L318.8,1324.5L319.2,1323.6L319.5,1322.6L319.9,1321.2L320.2,1320.0L320.6,1318.8L320.9,1318.0L321.3,1317.2L321.6,1315.6L322.0,1313.9L322.3,1312.8L322.6,1312.6L323.0,1311.7L323.3,1309.9L323.7,1308.6L324.0,1307.7L324.3,1306.5L324.7,1305.0L325.0,1303.7L325.3,1302.4L325.7,1301.5L326.0,1300.6L326.3,1299.7L326.7,1298.5L327.0,1296.9L327.3,1295.5L327.6,1294.6L328.0,1294.1L328.3,1292.9L328.6,1291.1L328.9,1289.8L329.3,1289.0L329.6,1287.9L329.9,1286.6L330.2,1285.6L330.6,1284.6L330.9,1283.4L331.2,1282.2L331.5,1281.0L331.8,1279.7L332.1,1278.6L332.5,1277.6L332.8,1276.4L333.1,1275.1L333.4,1273.9L333.7,1272.7L334.0,1271.6L334.3,1270.7L334.6,1269.4L335.0,1267.8L335.3,1266.7L335.6,1265.7L335.9,1264.4L336.2,1263.5L336.5,1262.3L336.8,1260.8L337.1,1259.2L337.4,1258.2L337.7,1257.8L338.0,1257.0L338.3,1255.2L338.6,1253.8L338.9,1253.2L339.2,1252.3L339.5,1251.0L339.9,1249.7L340.2,1248.6L340.5,1247.3L340.8,1245.7L341.1,1244.7L341.4,1243.6L341.7,1242.6L342.0,1241.6L342.3,1240.5L342.6,1239.3L342.9,1238.1L343.2,1237.0L343.5,1235.6L343.8,1234.0L344.1,1233.1L344.4,1232.3L344.7,1231.2L345.0,1230.4L345.3,1229.2L345.6,1227.5L345.9,1226.4L346.2,1225.3L346.5,1224.2L346.8,1223.4L347.1,1222.2L347.4,1220.6L347.7,1219.1L348.0,1217.8L348.3,1216.8L348.6,1215.9L348.9,1214.7L349.2,1214.0L349.5,1213.0L349.8,1211.1L350.1,1209.9L350.4,1209.2L350.7,1207.9L351.0,1206.4L351.3,1205.3L351.6,1204.4L351.9,1203.2L352.2,1201.8L352.5,1200.6L352.8,1199.6L353.1,1198.5L353.4,1197.1L353.7,1195.5L354.0,1194.6L354.3,1193.9L354.6,1192.7L354.9,1191.5L355.2,1190.4L355.5,1189.5L355.9,1188.5L356.2,1187.2L356.5,1186.0L356.8,1184.8L357.1,1183.4L357.4,1181.9L357.7,1180.9L358.0,1180.1L358.3,1178.7L358.7,1177.4L359.0,1176.1L359.3,1174.8L359.6,1173.7L359.9,1172.8L360.2,1171.4L360.5,1170.3L360.9,1169.6L361.2,1168.7L361.5,1167.1L361.8,1165.9L362.1,1165.0L362.5,1163.7L362.8,1162.0L363.1,1160.7L363.4,1159.4L363.7,1158.4L364.1,1158.2L364.4,1157.0L364.7,1155.3L365.0,1154.2L365.4,1153.3L365.7,1152.3L366.0,1151.3L366.3,1150.1L366.7,1148.7L367.0,1147.4L367.3,1146.7L367.6,1145.6L368.0,1143.8L368.3,1142.4L368.6,1141.4L368.9,1140.2L369.3,1139.3L369.6,1138.5L369.9,1137.3L370.3,1135.9L370.6,1134.6L370.9,1133.5L371.3,1132.5L371.6,1131.1L371.9,1129.7L372.2,1128.7L372.6,1128.0L372.9,1127.1L373.2,1125.7L373.6,1124.5L373.9,1123.8L374.2,1122.5L374.6,1121.3L374.9,1120.2L375.2,1118.7L375.6,1117.3L375.9,1116.2L376.2,1114.9L376.6,1113.6L376.9,1112.7L377.2,1111.7L377.6,1110.7L377.9,1109.3L378.2,1107.7L378.6,1106.6L378.9,1105.2L379.2,1104.0L379.6,1103.2L379.9,1101.9L380.2,1100.5L380.6,1099.8L380.9,1099.1L381.2,1098.3L381.6,1097.1L381.9,1095.4L382.2,1093.8L382.6,1092.9L382.9,1092.2L383.2,1091.2L383.6,1090.1L383.9,1088.8L384.2,1087.5L384.6,1086.1L384.9,1085.0L385.2,1084.2L385.6,1083.0L385.9,1081.4L386.2,1080.2L386.6,1079.3L386.9,1078.4L387.2,1077.5L387.5,1076.6L387.9,1075.1L388.2,1073.4L388.5,1072.2L388.9,1071.1L389.2,1070.1L389.5,1069.3L389.9,1068.5L390.2,1067.4L390.5,1065.8L390.8,1064.3L391.2,1063.1L391.5,1061.9L391.8,1060.9L392.2,1059.9L392.5,1059.0L392.8,1058.1L393.1,1056.6L393.5,1055.0L393.8,1054.0L394.1,1052.9L394.4,1051.3L394.8,1050.0L395.1,1048.9L395.4,1047.7L395.7,1046.5L396.0,1045.7L396.4,1044.8L396.7,1043.6L397.0,1042.5L397.3,1041.2L397.6,1039.8L398.0,1038.6L398.3,1037.8L398.6,1036.8L398.9,1035.7L399.2,1034.5L399.6,1033.4L399.9,1032.5L400.2,1031.0L400.5,1029.4L400.8,1028.3L401.1,1027.1L401.4,1025.7L401.7,1024.8L402.1,1024.3L402.4,1023.2L402.7,1022.3L403.0,1021.3L403.3,1019.7L403.6,1018.1L403.9,1017.0L404.2,1015.9L404.5,1015.0L404.8,1014.0L405.1,1012.6L405.4,1010.8L405.7,1009.4L406.0,1008.8L406.3,1008.0L406.6,1006.6L406.9,1005.2L407.2,1004.0L407.5,1002.9L407.8,1001.8L408.1,1000.4L408.4,999.4L408.7,998.5L409.0,997.2L409.3,995.8L409.6,994.7L409.9,993.9L410.2,992.6L410.5,991.4L410.7,990.7L411.0,989.5L411.3,987.8L411.6,986.3L411.9,985.3L412.2,984.5L412.5,983.2L412.7,981.4L413.0,980.3L413.3,979.4L413.6,978.5L413.9,977.9L414.1,976.7L414.4,974.8L414.7,973.3L415.0,972.4L415.2,971.3L415.5,970.0L415.8,968.9L416.0,968.0L416.3,967.1L416.6,966.1L416.8,964.8L417.1,963.3L417.4,962.0L417.6,960.8L417.9,959.6L418.2,958.5L418.4,957.2L418.7,955.8L419.0,954.9L419.2,954.1L419.5,952.8L419.7,951.5L420.0,950.4L420.2,949.4L420.5,948.2L420.8,946.9L421.0,945.7L421.3,944.4L421.5,943.0L421.8,941.8L422.0,940.9L422.3,940.1L422.6,939.0L422.8,937.8L423.1,936.9L423.3,935.4L423.6,933.5L423.8,932.7L424.1,932.0L424.3,930.8L424.6,929.7L424.9,928.4L425.1,927.0L425.4,925.8L425.6,924.9L425.9,923.5L426.1,921.8L426.4,920.5L426.6,919.6L426.9,918.6L427.2,917.7L427.4,916.6L427.7,915.4L427.9,914.2L428.2,913.0L428.4,911.9L428.7,910.6L429.0,909.1L429.2,908.2L429.5,907.2L429.7,905.8L430.0,904.4L430.3,903.7L430.5,903.2L430.8,901.9L431.1,900.0L431.3,898.6L431.6,897.3L431.9,895.8L432.1,894.7L432.4,894.1L432.7,893.5L432.9,892.4L433.2,891.4L433.5,890.1L433.7,888.4L434.0,886.8L434.3,885.5L434.6,884.5L434.8,883.9L435.1,882.7L435.4,881.0L435.6,879.7L435.9,878.8L436.2,877.5L436.5,876.2L436.7,875.3L437.0,874.2L437.3,872.8L437.6,871.7L437.8,870.5L438.1,869.4L438.4,868.5L438.7,867.6L439.0,866.3L439.2,865.0L439.5,863.6L439.8,861.9L440.1,860.8L440.3,860.0L440.6,858.9L440.9,857.7L441.2,856.3L441.5,855.3L441.7,855.0L442.0,854.4L442.3,852.7L442.6,850.7L442.8,849.5L443.1,848.5L443.4,847.1L443.7,846.1L444.0,845.4L444.2,844.3L444.5,842.6L444.8,841.2L445.1,839.8L445.4,838.5L445.6,837.7L445.9,836.4L446.2,835.5L446.5,834.8L446.8,833.5L447.1,832.4L447.3,831.3L447.6,829.9L447.9,828.7L448.2,827.9L448.5,826.6L448.8,824.9L449.1,823.6L449.3,822.8L449.6,821.9L449.9,820.6L450.2,819.6L450.5,818.9L450.8,817.6L451.1,816.0L451.4,814.6L451.7,813.2L452.0,812.1L452.3,810.9L452.6,809.7L453.0,808.7L453.3,807.6L453.6,806.5L453.9,805.7L454.2,804.8L454.5,803.2L454.8,801.7L455.2,800.7L455.5,799.6L455.8,798.4L456.2,797.3L456.5,796.3L456.8,795.4L457.2,794.5L457.6,793.5L458.0,792.1L458.3,790.6L458.7,789.1L459.0,788.1L459.3,787.3L459.6,786.0L459.8,784.6L459.9,783.7L459.9,782.8L459.9,781.8L459.8,780.2L459.8,778.6L459.9,777.5L460.4,776.7L461.0,777.8L461.5,779.1L462.0,780.1L462.5,781.2L463.0,782.5L463.6,783.5L464.5,783.5L465.0,782.2L465.4,780.8L465.7,779.6L465.9,778.5L466.2,777.6L466.4,776.4L466.6,774.9L466.9,773.4L467.2,772.3L467.4,771.7L467.7,770.7L468.0,769.1L468.3,767.8L468.5,766.7L468.8,765.5L469.1,764.6L469.4,763.5L469.7,762.1L470.0,760.8L470.3,759.9L470.6,758.8L470.9,757.3L471.2,756.1L471.5,755.3L471.8,754.1L472.0,752.9L472.3,751.8L472.6,750.7L472.9,749.4L473.2,747.9L473.5,747.0L473.8,746.4L474.1,745.6L474.4,744.2L474.7,742.8L475.0,742.0L475.3,741.0L475.6,739.8L475.9,738.2L476.2,736.5L476.5,735.5L476.8,734.5L477.1,733.2L477.4,732.0L477.7,730.9L478.0,729.7L478.3,728.4L478.6,727.3L478.9,726.0L479.2,724.6L479.5,723.5L479.8,722.7L480.1,721.3L480.4,719.7L480.7,718.8L481.0,718.0L481.3,717.0L481.6,715.7L481.9,714.4L482.2,713.4L482.5,712.4L482.8,711.4L483.1,710.3L483.4,709.2L483.7,707.9L484.0,706.9L484.3,705.7L484.6,704.0L484.9,702.9L485.2,702.2L485.6,700.8L485.9,699.6L486.2,699.0L486.5,697.9L486.8,696.3L487.1,694.9L487.4,693.8L487.8,692.8L488.1,691.7L488.4,690.1L488.7,688.4L489.1,687.3L489.4,686.7L489.7,686.0L490.0,684.8L490.4,683.7L490.7,682.5L491.0,681.3L491.3,680.1L491.7,678.7L492.0,677.5L492.3,676.6L492.7,675.7L493.0,674.6L493.3,673.3L493.7,672.0L494.0,670.7L494.4,669.5L494.7,667.9L495.1,666.8L495.5,666.1L495.8,665.0L496.2,663.8L496.6,662.7L497.0,661.3L497.4,659.8L497.8,658.9L498.2,658.0L498.7,656.8L499.1,655.7L499.5,654.6L500.0,653.6L500.5,652.6L500.9,651.1L501.4,649.8L501.9,649.2L502.4,648.3L502.9,647.0L503.3,645.7L503.8,644.6L504.3,643.7L504.8,642.9L505.3,641.8L505.8,640.3L506.3,638.7L506.8,637.6L507.3,637.2L507.8,636.5L508.3,635.3L508.8,634.1L509.3,633.0L509.7,631.9L510.2,630.6L510.7,629.3L511.1,628.5L511.6,627.5L512.0,626.0L512.4,624.9L512.8,624.0L513.2,622.9L513.6,621.7L514.0,620.6L514.4,620.0L514.8,618.9L515.2,617.7L515.5,616.4L515.9,615.0L516.3,613.8L516.6,612.5L517.0,611.4L517.4,610.6L517.8,609.6L518.2,608.1L518.6,606.7L519.0,605.8L519.3,605.0L519.7,603.4L520.1,601.9L520.5,601.3L520.9,600.3L521.3,598.5L521.6,597.1L522.0,596.4L522.4,595.5L522.8,594.0L523.2,592.8L523.6,592.4L524.0,591.6L524.5,589.9L524.9,588.6L525.3,587.5L525.7,586.3L526.1,585.1L526.6,584.2L527.0,583.4L527.4,581.9L527.9,580.1L528.3,579.0L528.8,578.3L529.2,577.7L529.7,576.9L530.1,576.0L530.6,574.5L531.0,572.6L531.5,571.6L532.0,571.1L532.4,570.0L532.9,568.6L533.4,567.7L533.8,566.7L534.3,565.2L534.8,564.1L535.3,563.1L535.7,561.8L536.2,560.9L536.7,560.2L537.2,558.6L537.7,557.1L538.2,556.1L538.7,555.0L539.2,554.0L539.7,553.2L540.2,552.5L540.7,551.4L541.3,549.8L541.8,548.5L542.4,547.9L543.0,547.5L543.7,546.2L544.3,544.6L545.0,543.6L545.6,542.7L546.2,541.8L546.8,540.9L547.4,539.9L547.9,539.2L548.5,538.3L549.0,536.5L549.6,535.1L550.1,534.3L550.7,533.4L551.2,532.2L551.7,530.7L552.3,529.5L552.8,528.4L553.3,527.4L553.9,526.6L554.4,525.8L554.9,524.4L555.5,523.4L556.0,522.6L556.5,521.5L557.1,520.5L557.6,519.6L558.2,518.5L558.7,517.2L559.2,515.7L559.8,514.5L560.3,513.9L560.9,513.2L561.4,511.9L562.0,510.4L562.6,509.5L563.1,508.8L563.7,507.4L564.3,505.9L564.9,504.7L565.5,504.0L566.1,503.6L566.7,502.9L567.3,501.2L567.9,499.6L568.5,498.9L569.1,498.3L569.7,497.4L570.3,496.2L570.9,494.9L571.4,493.9L572.0,493.0L572.6,492.1L573.1,491.2L573.6,490.3L574.0,489.3L574.4,487.8L574.8,486.2L575.3,484.9L575.9,483.9L576.4,482.9L577.0,482.0L577.6,481.1L578.2,480.1L578.8,479.0L579.3,477.7L579.9,476.5L580.5,475.9L581.1,475.3L581.7,474.2L582.3,473.2L582.9,472.6L583.5,471.4L584.1,469.7L584.7,468.0L585.3,467.0L585.9,466.5L586.5,465.6L587.1,464.8L587.7,464.0L588.3,463.1L588.9,462.3L589.6,460.9L590.2,459.2L590.8,458.0L591.4,456.7L592.0,455.7L592.7,455.1L593.3,454.4L593.9,453.3L594.6,452.0L595.3,450.7L595.9,449.8L596.6,448.9L597.3,447.9L598.0,447.4L598.7,446.8L599.5,445.5L600.2,444.3L601.0,443.3L601.7,442.3L602.5,441.6L603.3,441.0L604.1,439.7L604.9,438.3L605.7,437.6L606.5,437.2L607.4,436.4L608.2,435.3L609.0,434.1L609.9,433.1L610.8,432.5L611.7,432.0L612.7,431.5L613.7,431.0L614.7,430.4L615.7,429.6L616.8,428.8L617.8,428.0L618.8,427.7L619.9,427.0L620.9,426.4L622.0,426.1L623.0,425.4L624.1,424.8L625.1,424.5L626.1,423.5L627.2,422.5L628.2,422.2L629.2,421.6L630.1,420.4L631.1,419.8L632.0,419.6L633.0,418.8L633.9,417.6L634.9,416.7L635.8,416.2L636.7,415.6L637.6,414.5L638.6,413.6L639.5,413.4L640.4,413.0L641.4,412.1L642.3,411.3L643.3,410.4L644.3,409.6L645.2,409.0L646.2,408.3L647.2,407.5L648.2,406.7L649.2,406.3L650.2,405.9L651.3,405.3L652.4,404.5L653.5,403.7L654.7,403.4L655.8,403.3L657.0,403.2L658.2,403.1L659.4,403.1L660.6,403.3L661.8,403.1L662.9,402.6L664.1,402.0L665.3,401.6L666.5,401.7L667.7,402.0L668.9,402.5L670.1,402.5L671.3,401.7L672.5,401.1L673.7,400.9L674.9,400.9L676.0,401.0L677.2,400.5L678.3,400.0L679.4,399.8L680.5,399.6L681.5,398.6L682.5,397.5L683.5,396.9L684.5,396.5L685.4,395.9L686.4,395.1L687.3,394.2L688.3,393.5L689.3,392.7L690.2,391.8L691.2,391.2L692.2,390.4L693.2,389.8L694.3,389.4L695.3,388.5L696.3,387.7L697.4,387.3L698.4,387.0L699.5,387.1L700.5,386.9L701.6,386.0L702.7,385.1L703.7,384.0L704.8,383.2L705.8,382.3L706.9,381.5L707.9,381.3L709.0,381.2L710.0,381.3L711.1,381.0L712.1,380.1L713.2,379.4L714.2,378.6L715.3,378.0L716.3,377.4L717.3,376.7L718.4,376.6L719.4,375.6L720.5,374.4L721.5,374.0L722.6,373.5L723.6,372.7L724.7,372.2L725.7,371.7L726.8,371.1L727.9,370.5L729.0,369.8L730.0,369.2L731.1,369.2L732.2,368.9L733.3,368.1L734.4,367.2L735.5,366.9L736.6,366.9L737.7,366.5L738.8,366.3L739.9,365.9L741.0,365.1L742.1,364.4L743.3,363.5L744.4,363.0L745.5,362.8L746.6,362.5L747.8,362.3L748.9,361.9L750.1,361.6L751.2,361.7L752.4,361.4L753.6,360.7L754.7,360.1L755.9,360.0L757.0,359.7L758.2,359.3L759.3,359.2L760.5,359.3L761.6,358.9L762.8,358.1L764.0,358.3L765.1,358.8L766.3,358.3L767.4,357.2L768.6,356.5L769.8,356.4L770.9,356.1L772.1,355.9L773.2,356.1L774.4,355.6L775.5,355.1L776.7,354.8L777.9,354.0L779.0,353.6L780.2,353.7L781.4,353.7L782.5,353.1L783.7,352.4L784.9,352.4L786.1,352.3L787.3,351.7L788.4,351.7L789.6,352.0L790.8,351.7L792.0,351.0L793.2,350.9L794.4,351.1L795.6,351.0L796.8,351.1L798.0,351.6L799.2,352.0L800.4,351.7L801.6,350.7L802.8,350.2L804.0,350.5L805.2,350.6L806.4,349.8L807.6,349.2L808.8,349.6L810.0,349.8L811.2,349.7L812.4,350.0L813.6,350.4L814.8,350.2L816.0,349.5L817.2,349.3L818.4,349.7L819.6,350.1L820.8,350.4L821.9,350.5L823.1,350.1L824.3,350.1L825.4,350.9L826.6,351.4L827.7,351.7L828.9,352.2L830.1,352.0L831.3,351.3L832.5,351.4L833.7,352.0L834.9,351.8L836.1,351.5L837.3,351.4L838.5,351.9L839.7,352.0L840.9,351.2L842.0,351.1L843.2,351.8L844.4,352.2L845.5,352.3L846.6,352.5L847.8,353.0L848.9,353.7L850.0,354.2L851.1,354.3L852.2,354.9L853.4,355.8L854.5,355.9L855.7,355.8L856.9,356.2L858.1,356.4L859.3,356.7L860.5,357.1L861.7,357.2L862.9,356.9L864.1,357.0L865.3,357.6L866.5,357.5L867.7,357.1L868.9,357.0L870.1,357.0L871.3,357.0L872.5,357.0L873.7,356.9L874.9,356.8L876.0,356.7L877.2,356.5L878.4,356.4L879.6,356.5L880.8,356.2L882.0,356.0L883.2,356.2L884.4,355.9L885.6,355.4L886.7,355.1L887.8,354.8L889.0,354.4L890.2,353.9L891.4,353.3L892.6,353.1L893.8,353.0L894.9,353.1L896.1,354.0L897.3,354.3L898.5,353.6L899.7,353.6L900.9,353.8L902.1,353.6L903.3,354.1L904.5,354.4L905.7,354.2L906.8,354.9L908.0,355.6L909.2,355.9L910.3,356.2L911.5,356.3L912.6,356.5L913.8,357.0L915.0,357.3L916.1,357.5L917.3,357.4L918.5,357.4L919.7,357.7L920.8,358.4L922.0,359.2L923.2,359.7L924.4,359.5L925.6,358.9L926.8,359.4L928.0,359.9L929.2,359.6L930.3,359.6L931.5,359.7L932.7,360.0L933.9,360.6L935.1,360.8L936.3,360.5L937.5,360.0L938.7,359.6L939.9,359.9L941.1,360.7L942.3,360.7L943.5,360.6L944.7,360.7L945.9,361.1L947.1,361.1L948.3,360.7L949.5,360.4L950.7,360.2L951.9,359.7L953.1,359.4L954.3,359.3L955.5,359.0L956.7,359.1L957.9,359.4L959.1,359.0L960.3,358.5L961.5,358.7L962.7,358.8L963.9,358.9L965.1,359.3L966.3,359.5L967.5,359.4L968.7,359.2L969.9,359.0L971.1,358.9L972.3,358.6L973.5,358.1L974.6,357.9L975.8,357.9L977.0,357.9L978.2,358.2L979.4,357.9L980.6,357.2L981.8,357.1L983.0,357.3L984.2,357.2L985.4,357.2L986.6,357.3L987.8,357.2L989.0,357.1L990.2,356.9L991.4,356.9L992.6,356.8L993.8,356.7L995.0,356.8L996.2,357.1L997.4,357.5L998.6,357.2L999.8,356.7L1001.0,356.7L1002.2,356.6L1003.4,356.1L1004.6,356.2L1005.8,356.6L1006.9,356.7L1008.1,356.6L1009.3,356.3L1010.5,356.1L1011.7,355.7L1012.9,355.3L1014.1,355.6L1015.3,355.9L1016.5,355.7L1017.7,355.6L1018.9,355.6L1020.1,355.4L1021.3,355.3L1022.5,355.6L1023.7,355.8L1024.9,355.7L1026.1,355.8L1027.3,355.6L1028.5,355.4L1029.7,355.9L1030.9,356.2L1032.0,356.6L1033.2,357.2L1034.4,357.4L1035.6,357.2L1036.8,357.7L1037.9,358.6L1039.1,358.7L1040.2,358.8L1041.4,359.4L1042.5,360.0L1043.7,359.9L1044.9,359.9L1046.0,360.2L1047.2,360.4L1048.4,360.6L1049.6,361.0L1050.8,361.2L1051.9,361.4L1053.1,361.7L1054.3,361.8L1055.5,361.4L1056.7,361.7L1057.9,362.6L1059.1,362.9L1060.3,362.5L1061.4,362.2L1062.6,362.6L1063.8,362.8L1065.0,362.8L1066.2,362.6L1067.4,362.5L1068.6,362.7L1069.8,362.6L1071.0,362.2L1072.2,361.8L1073.4,362.2L1074.6,362.7L1075.8,362.6L1077.0,362.5L1078.2,362.8L1079.4,362.8L1080.6,362.4L1081.8,362.2L1083.0,362.4L1084.2,362.2L1085.4,362.4L1086.6,362.9L1087.8,362.6L1089.0,362.6L1090.2,362.7L1091.4,362.5L1092.6,362.7L1093.8,363.0L1095.0,362.7L1096.2,362.5L1097.4,362.9L1098.6,363.4L1099.8,363.5L1101.0,363.6L1102.2,363.7L1103.4,363.6L1104.6,363.5L1105.8,363.5L1107.0,363.6L1108.2,364.0L1109.4,363.9L1110.6,363.4L1111.8,363.4L1113.0,363.9L1114.2,364.1L1115.4,364.0L1116.6,364.3L1117.8,364.8L1119.0,365.0L1120.2,364.8L1121.3,364.8L1122.5,364.9L1123.7,365.1L1124.9,365.5L1126.1,365.9L1127.3,365.8L1128.5,365.7L1129.7,365.9L1130.8,366.5L1132.0,367.0L1133.2,366.8L1134.4,366.8L1135.6,367.2L1136.8,367.5L1138.0,367.7L1139.2,367.4L1140.4,367.2L1141.6,367.2L1142.8,367.1L1144.0,367.2L1145.2,367.2L1146.4,367.3L1147.6,367.5L1148.8,367.5L1150.0,367.5L1151.2,367.8L1152.4,368.4L1153.6,368.9L1154.7,368.5L1155.9,368.1L1157.1,368.8L1158.2,369.3L1159.4,369.2L1160.6,369.0L1161.7,369.3L1162.9,370.2L1164.1,370.9L1165.3,370.9L1166.5,370.8L1167.7,370.8L1168.9,370.8L1170.1,371.3L1171.3,371.9L1172.5,371.6L1173.7,371.4L1174.9,371.3L1176.0,371.0L1177.2,371.3L1178.4,371.6L1179.6,371.7L1180.8,372.1L1182.0,372.5L1183.1,372.8L1184.3,373.0L1185.5,373.1L1186.7,372.9L1187.9,372.9L1189.1,373.3L1190.3,373.5L1191.5,373.2L1192.7,373.0L1193.9,372.9L1195.1,372.5L1196.3,372.0L1197.5,372.0L1198.7,372.3L1199.9,373.0L1201.1,373.4L1202.3,373.5L1203.5,373.6L1204.7,373.5L1205.8,373.3L1207.0,373.2L1208.2,373.2L1209.4,373.7L1210.6,374.1L1211.8,374.5L1213.0,374.9L1214.1,374.8L1215.2,374.9L1216.4,375.3L1217.5,375.6L1218.6,376.0L1219.7,376.3L1220.9,376.8L1222.0,377.3L1223.2,377.6L1224.4,377.9L1225.6,377.9L1226.7,378.0L1227.9,378.6L1229.1,378.5L1230.3,378.0L1231.5,378.2L1232.7,378.8L1233.9,379.4L1235.1,379.5L1236.3,379.0L1237.5,378.6L1238.7,378.3L1239.9,378.1L1241.1,378.4L1242.3,379.0L1243.5,379.0L1244.7,378.6L1245.9,378.5L1247.1,378.4L1248.3,377.9L1249.5,377.6L1250.7,377.6L1251.9,377.5L1253.1,378.0L1254.3,378.7L1255.4,378.8L1256.6,379.1L1257.8,379.3L1259.0,379.1L1260.1,379.3L1261.3,379.8L1262.5,380.3L1263.7,380.5L1264.9,380.6L1266.0,380.8L1267.2,380.9L1268.4,381.4L1269.6,381.8L1270.8,381.5L1272.0,381.5L1273.2,382.1L1274.3,382.4L1275.5,382.5L1276.7,382.6L1277.9,382.6L1279.1,382.5L1280.3,382.4L1281.5,382.3L1282.7,382.2L1283.9,382.2L1285.1,382.1L1286.3,381.7L1287.5,382.0L1288.7,382.6L1289.9,382.4L1291.1,382.3L1292.3,382.6L1293.5,382.5L1294.7,382.3L1295.9,382.4L1297.1,382.2L1298.3,382.5L1299.5,383.0L1300.6,382.9L1301.8,383.1L1303.0,383.6L1304.2,383.5L1305.4,383.2L1306.6,383.5L1307.8,383.7L1309.0,383.3L1310.2,382.6L1311.3,382.2L1312.4,381.9L1313.6,381.6L1314.7,381.0L1315.9,380.7L1317.1,380.8L1318.3,380.6L1319.4,380.5L1320.6,380.4L1321.8,379.9L1323.0,379.7L1324.2,379.7L1325.4,379.4L1326.6,378.9L1327.8,378.8L1329.0,378.9L1330.2,378.8L1331.3,378.9L1332.5,378.9L1333.7,378.8L1334.9,379.2L1336.1,379.4L1337.3,379.5L1338.5,379.6L1339.7,379.5L1340.9,379.8L1342.1,380.3L1343.3,380.4L1344.5,380.2L1345.7,380.3L1346.9,380.4L1348.1,380.4L1349.3,380.8L1350.5,381.2L1351.7,381.6L1352.9,381.6L1354.1,381.1L1355.3,380.8L1356.5,380.7L1357.7,381.1L1358.9,381.1L1360.1,380.9L1361.3,381.2L1362.5,381.4L1363.7,381.6L1364.9,381.7L1366.0,381.4L1367.2,381.2L1368.4,381.5L1369.6,382.2L1370.8,382.7L1372.0,383.0L1373.2,383.3L1374.4,383.0L1375.6,382.5L1376.8,382.3L1378.0,382.0L1379.2,381.5L1380.4,381.5L1381.5,381.4L1382.7,381.3L1383.9,381.1L1385.1,380.9L1386.3,381.0L1387.5,381.0L1388.7,380.5L1389.9,380.0L1391.1,380.0L1392.3,380.6L1393.5,381.2L1394.7,381.1L1395.9,380.8L1397.1,380.7L1398.3,380.7L1399.5,380.9L1400.7,381.0L1401.9,380.9L1403.1,381.1L1404.3,381.3L1405.5,381.8L1406.7,382.2L1407.9,382.1L1409.1,381.6L1410.3,381.4L1411.5,381.6L1412.7,382.0L1413.9,382.3L1415.0,381.9L1416.2,381.4L1417.4,381.8L1418.6,382.2L1419.8,382.5L1421.0,382.8L1422.2,382.8L1423.4,382.9L1424.6,383.1L1425.8,383.3L1427.0,383.5L1428.2,383.3L1429.4,383.3L1430.6,383.8L1431.8,383.8L1432.9,384.4L1434.1,385.1L1435.3,384.9L1436.4,384.7L1437.6,385.1L1438.8,385.4L1440.0,385.4L1441.1,385.5L1442.3,386.0L1443.5,386.6L1444.7,386.8L1445.9,387.2L1447.1,387.4L1448.2,387.3L1449.4,387.6L1450.6,387.9L1451.8,387.9L1453.0,387.9L1454.2,388.4L1455.4,388.4L1456.6,388.4L1457.8,388.9L1459.0,389.2L1460.2,389.3L1461.4,389.2L1462.6,388.9L1463.8,388.7L1465.0,388.8L1466.2,388.7L1467.4,388.7L1468.6,388.9L1469.8,388.9L1471.0,388.9L1472.1,389.0L1473.3,388.8L1474.5,389.1L1475.7,389.7L1476.9,389.6L1478.1,389.1L1479.3,389.1L1480.5,389.3L1481.7,389.2L1482.9,389.7L1484.1,389.9L1485.3,389.7L1486.5,389.6L1487.7,389.4L1488.9,389.5L1490.1,389.7L1491.3,389.4L1492.5,389.2L1493.7,389.6L1494.9,389.6L1496.1,389.4L1497.3,389.5L1498.5,389.9L1499.7,389.4L1500.9,388.8L1502.1,389.3L1503.3,390.0L1504.5,389.8L1505.7,389.6L1506.9,389.4L1508.1,389.0L1509.3,389.0L1510.5,389.3L1511.7,389.0L1512.9,388.5L1514.1,388.5L1515.3,388.9L1516.5,389.0L1517.7,389.0L1518.9,388.8L1520.1,388.7L1521.3,388.9L1522.5,389.0L1523.7,388.7L1524.9,388.4L1526.1,388.4L1527.3,388.8L1528.5,388.8L1529.7,388.5L1530.9,388.2L1532.1,388.1L1533.3,388.3L1534.5,388.2L1535.7,387.7L1536.9,387.7L1538.1,387.8L1539.3,387.7L1540.5,388.1L1541.7,387.7L1542.9,386.8L1544.1,386.6L1545.3,386.9L1546.5,387.1L1547.7,387.0L1548.9,386.6L1550.0,386.3L1551.2,386.8L1552.4,387.3L1553.6,387.3L1554.8,387.0L1556.0,386.8L1557.2,386.7L1558.4,386.2L1559.6,385.7L1560.8,385.6L1562.0,385.6L1563.2,385.6L1564.4,385.6L1565.6,385.5L1566.8,385.3L1567.9,385.0L1569.1,384.7L1570.3,384.6L1571.5,384.5L1572.7,384.3L1573.9,384.2L1575.1,384.3L1576.3,384.4L1577.5,384.1L1578.7,383.6L1579.9,383.3L1581.1,383.3L1582.3,383.5L1583.5,383.6L1584.7,383.5L1585.9,383.4L1587.1,383.7L1588.3,384.1L1589.5,384.1L1590.7,383.6L1591.9,382.8L1593.1,382.6L1594.3,383.0L1595.5,383.4L1596.7,383.7L1597.9,383.9L1599.1,383.5L1600.3,383.0L1601.5,382.9L1602.7,383.0L1603.9,383.1L1605.1,382.9L1606.3,382.8L1607.5,382.8L1608.7,382.6L1609.9,382.6L1611.1,382.7L1612.3,382.4L1613.5,382.1L1614.7,382.3L1615.9,382.3L1617.1,381.8L1618.3,381.9L1619.5,381.9L1620.7,381.7L1621.9,381.6L1623.0,381.7L1624.2,381.6L1625.4,381.2L1626.6,380.9L1627.8,380.5L1629.0,380.8L1630.2,381.6L1631.4,381.7L1632.6,380.8L1633.8,380.2L1635.0,380.4L1636.2,381.1L1637.4,381.4L1638.6,381.0L1639.8,380.8L1641.0,381.0L1642.2,380.9L1643.4,380.7L1644.6,380.9L1645.8,381.2L1647.0,380.9L1648.2,380.5L1649.4,380.3L1650.6,380.3L1651.8,380.2L1653.0,380.4L1654.2,380.6L1655.4,380.7L1656.6,380.5L1657.8,380.7L1659.0,380.5L1660.2,380.0L1661.4,379.7L1662.6,379.8L1663.8,380.2L1665.0,379.9L1666.2,380.0L1667.4,380.5L1668.6,380.6L1669.8,380.6L1671.0,380.2L1672.2,380.0L1673.4,380.5L1674.6,381.1L1675.8,381.2L1677.0,381.0L1678.2,380.4L1679.4,380.1L1680.6,380.2L1681.8,380.4L1683.0,380.5L1684.2,381.1L1685.4,381.6L1686.6,381.8L1687.8,382.0L1689.0,381.8L1690.2,381.5L1691.4,381.9L1692.6,381.9L1693.8,381.5L1695.0,381.7L1696.2,381.7L1697.4,381.6L1698.6,382.0L1699.8,382.2L1701.0,382.2L1702.2,382.0L1703.4,381.7L1704.6,381.4L1705.8,381.6L1707.0,381.8L1708.2,382.0L1709.4,381.6L1710.5,381.1L1711.7,381.0L1712.9,380.6L1714.1,379.9L1715.3,379.8L1716.4,379.6L1717.6,379.1L1718.8,378.8L1720.0,378.7L1721.2,378.7L1722.4,378.7L1723.5,378.8L1724.7,378.9L1725.9,378.4L1727.1,377.8L1728.3,378.0L1729.5,378.5L1730.7,378.3L1731.9,377.8L1733.1,377.3L1734.3,376.8L1735.5,376.7L1736.7,376.7L1737.9,376.9L1739.1,377.4L1740.3,377.3L1741.5,376.7L1742.7,376.7L1743.9,377.0L1745.1,377.0L1746.3,377.1L1747.5,377.5L1748.6,377.7L1749.8,377.4L1751.0,377.2L1752.2,377.4L1753.4,377.5L1754.6,377.3L1755.8,377.7L1757.0,377.9L1758.2,377.9L1759.4,378.0L1760.6,377.8L1761.8,377.6L1763.0,377.6L1764.2,377.8L1765.4,378.4L1766.6,378.8L1767.8,379.0L1769.0,378.8L1770.2,378.5L1771.4,378.9L1772.6,379.0L1773.8,378.6L1775.0,378.4L1776.2,378.6L1777.4,379.2L1778.6,379.8L1779.8,379.9L1780.9,379.7L1782.1,380.0L1783.3,380.1L1784.5,380.0L1785.6,380.2L1786.8,380.5L1788.0,380.5L1789.2,380.9L1790.3,381.7L1791.5,382.2L1792.7,382.5L1793.8,382.8L1795.0,383.1L1796.2,383.3L1797.3,383.0L1798.5,383.3L1799.7,384.2L1800.9,384.9L1802.1,385.1L1803.3,384.9L1804.5,384.7L1805.6,384.8L1806.8,384.6L1808.0,384.4L1809.2,384.9L1810.4,385.3L1811.6,385.1L1812.8,385.0L1814.0,385.0L1815.2,385.1L1816.4,385.0L1817.6,385.0L1818.8,385.5L1820.0,385.5L1821.2,385.3L1822.4,385.6L1823.6,386.2L1824.8,386.2L1826.0,385.9L1827.2,386.0L1828.4,386.3L1829.6,386.4L1830.8,386.3L1832.0,386.0L1833.2,385.9L1834.4,386.2L1835.6,386.2L1836.8,386.1L1838.0,386.4L1839.2,386.8L1840.4,386.8L1841.6,386.8L1842.8,387.2L1844.0,387.0L1845.2,387.0L1846.4,387.0L1847.5,387.0L1848.7,387.6L1849.9,387.6L1851.1,387.5L1852.3,387.3L1853.5,387.0L1854.7,387.5L1855.9,388.1L1857.1,388.4L1858.3,388.6L1859.5,388.3L1860.7,387.9L1861.9,388.0L1863.1,387.9L1864.3,388.0L1865.5,388.5L1866.7,388.8L1867.9,388.8L1869.1,388.6L1870.3,388.5L1871.5,388.1L1872.7,387.9L1873.9,387.8L1875.1,387.3L1876.3,386.8L1877.5,386.9L1878.7,387.1"/>
<path class="cv" stroke="#ff8000" d="M258.4,1454.0L259.5,1453.6L260.5,1452.8L261.5,1452.1L262.6,1452.0L263.6,1451.6L264.7,1450.6L265.7,1449.8L266.7,1449.3L267.8,1448.5L268.8,1448.1L269.8,1447.8L270.8,1446.9L271.8,1446.0L272.8,1445.2L273.7,1444.8L274.7,1444.6L275.7,1444.0L276.6,1442.8L277.6,1441.8L278.5,1440.8L279.5,1439.9L280.4,1438.9L281.3,1437.9L282.3,1437.5L283.2,1437.4L284.1,1436.5L285.0,1435.1L285.9,1434.5L286.7,1434.2L287.6,1433.2L288.5,1432.3L289.3,1431.2L290.2,1430.0L291.0,1429.6L291.8,1429.1L292.6,1428.2L293.5,1427.5L294.3,1426.5L295.0,1425.4L295.8,1424.5L296.6,1423.5L297.4,1422.2L298.1,1421.2L298.9,1420.8L299.6,1419.9L300.3,1419.0L301.0,1418.2L301.8,1417.1L302.5,1415.5L303.2,1414.2L303.8,1413.6L304.5,1412.8L305.2,1411.5L305.9,1410.5L306.5,1410.0L307.2,1409.3L307.8,1408.4L308.4,1407.3L309.1,1406.1L309.7,1404.7L310.3,1403.6L310.9,1402.8L311.5,1401.6L312.1,1400.6L312.7,1399.8L313.3,1398.6L313.9,1397.2L314.4,1396.1L315.0,1395.4L315.6,1394.3L316.1,1392.8L316.7,1391.5L317.2,1390.7L317.8,1390.4L318.3,1389.5L318.9,1387.5L319.4,1386.6L319.9,1386.1L320.4,1384.9L321.0,1383.5L321.5,1382.2L322.0,1381.2L322.5,1380.6L323.0,1379.7L323.5,1378.6L324.0,1377.5L324.5,1376.3L325.0,1374.8L325.5,1373.7L326.0,1373.1L326.5,1371.8L327.0,1370.3L327.5,1369.2L328.0,1368.2L328.5,1367.1L328.9,1366.0L329.4,1365.2L329.9,1364.0L330.4,1362.5L330.8,1361.8L331.3,1361.0L331.7,1359.9L332.2,1358.9L332.7,1357.5L333.1,1356.2L333.6,1354.9L334.0,1353.7L334.5,1352.8L334.9,1352.1L335.3,1351.2L335.8,1350.0L336.2,1348.8L336.6,1347.4L337.1,1345.9L337.5,1344.5L337.9,1343.5L338.3,1343.0L338.8,1342.1L339.2,1340.7L339.6,1339.4L340.0,1338.3L340.4,1337.4L340.8,1336.3L341.2,1335.2L341.7,1334.1L342.1,1332.4L342.5,1331.3L342.9,1330.7L343.3,1329.6L343.6,1328.2L344.0,1327.2L344.4,1326.3L344.8,1325.1L345.2,1323.6L345.6,1322.1L346.0,1321.0L346.4,1320.6L346.7,1319.3L347.1,1317.4L347.5,1315.9L347.9,1314.7L348.2,1313.8L348.6,1313.0L349.0,1311.9L349.3,1310.8L349.7,1309.7L350.1,1308.0L350.4,1306.6L350.8,1305.6L351.2,1304.5L351.5,1303.9L351.9,1303.2L352.2,1301.8L352.6,1300.6L352.9,1299.6L353.3,1298.4L353.6,1297.2L354.0,1295.9L354.3,1294.4L354.7,1293.0L355.0,1292.1L355.3,1291.5L355.7,1290.9L356.0,1289.8L356.4,1288.5L356.7,1287.2L357.0,1285.5L357.4,1284.2L357.7,1283.2L358.0,1282.3L358.4,1281.4L358.7,1280.3L359.0,1278.6L359.4,1277.0L359.7,1276.1L360.0,1274.7L360.3,1273.5L360.7,1273.2L361.0,1272.3L361.3,1270.7L361.6,1269.2L362.0,1268.2L362.3,1267.2L362.6,1265.8L362.9,1264.3L363.2,1263.6L363.5,1262.9L363.9,1261.8L364.2,1260.5L364.5,1259.3L364.8,1258.1L365.1,1256.8L365.4,1255.4L365.8,1254.4L366.1,1253.8L366.4,1252.7L366.7,1251.0L367.0,1249.8L367.3,1248.4L367.6,1247.0L367.9,1246.0L368.2,1245.0L368.6,1243.9L368.9,1242.9L369.2,1241.4L369.5,1240.0L369.8,1239.5L370.1,1238.7L370.4,1237.3L370.7,1235.7L371.0,1234.6L371.3,1233.5L371.6,1232.2L371.9,1231.3L372.2,1230.5L372.6,1229.5L372.9,1228.2L373.2,1226.4L373.5,1224.8L373.8,1223.8L374.1,1223.1L374.4,1222.1L374.7,1220.5L375.0,1219.4L375.3,1218.7L375.6,1217.3L375.9,1215.7L376.2,1214.9L376.6,1214.1L376.9,1212.8L377.2,1211.3L377.5,1210.0L377.8,1208.8L378.1,1207.9L378.4,1207.0L378.7,1206.0L379.0,1204.8L379.3,1203.4L379.7,1202.2L380.0,1201.2L380.3,1200.1L380.6,1199.0L380.9,1198.0L381.2,1196.9L381.5,1195.5L381.8,1193.9L382.2,1192.6L382.5,1191.7L382.8,1190.9L383.1,1189.9L383.4,1188.8L383.7,1187.4L384.0,1185.7L384.3,1184.4L384.7,1183.7L385.0,1183.2L385.3,1182.3L385.6,1180.4L385.9,1178.6L386.2,1177.8L386.6,1177.1L386.9,1175.9L387.2,1174.4L387.5,1173.2L387.8,1172.3L388.1,1171.2L388.5,1169.7L388.8,1168.5L389.1,1167.7L389.4,1166.5L389.7,1165.1L390.0,1164.0L390.4,1162.9L390.7,1161.6L391.0,1160.4L391.3,1159.2L391.6,1158.0L392.0,1156.8L392.3,1156.2L392.6,1155.6L392.9,1154.0L393.2,1152.4L393.6,1151.8L393.9,1150.5L394.2,1148.8L394.5,1147.7L394.8,1146.7L395.2,1145.2L395.5,1144.0L395.8,1143.2L396.1,1142.4L396.5,1141.2L396.8,1140.1L397.1,1138.6L397.4,1137.2L397.8,1136.1L398.1,1135.0L398.4,1133.9L398.7,1132.9L399.1,1131.7L399.4,1129.9L399.7,1128.4L400.0,1127.5L400.4,1126.5L400.7,1125.4L401.0,1124.3L401.3,1123.2L401.7,1122.4L402.0,1121.5L402.3,1120.2L402.6,1119.1L403.0,1117.8L403.3,1116.1L403.6,1114.8L404.0,1113.6L404.3,1112.6L404.6,1111.8L404.9,1110.8L405.3,1110.0L405.6,1109.1L405.9,1107.6L406.3,1106.6L406.6,1105.6L406.9,1104.1L407.3,1102.9L407.6,1101.8L407.9,1101.1L408.3,1100.3L408.6,1098.8L408.9,1096.7L409.2,1095.0L409.6,1094.3L409.9,1093.5L410.2,1092.3L410.6,1091.1L410.9,1089.7L411.3,1088.6L411.6,1087.6L411.9,1086.2L412.3,1084.8L412.6,1084.0L412.9,1083.4L413.3,1082.3L413.6,1081.0L413.9,1080.0L414.3,1079.3L414.6,1077.8L414.9,1076.2L415.3,1075.3L415.6,1074.4L416.0,1073.0L416.3,1071.8L416.6,1070.8L417.0,1070.0L417.3,1068.7L417.7,1067.1L418.0,1066.1L418.3,1065.0L418.7,1063.7L419.0,1062.9L419.4,1061.9L419.7,1060.4L420.0,1058.6L420.4,1057.3L420.7,1056.5L421.1,1055.6L421.4,1054.3L421.7,1053.2L422.1,1052.5L422.4,1051.2L422.8,1049.5L423.1,1048.5L423.5,1047.9L423.8,1046.6L424.2,1045.4L424.5,1044.6L424.8,1043.6L425.2,1042.4L425.5,1041.3L425.9,1040.0L426.2,1038.5L426.6,1037.3L426.9,1036.4L427.3,1035.0L427.6,1033.6L428.0,1032.5L428.3,1031.6L428.7,1030.7L429.0,1029.4L429.4,1027.5L429.7,1026.2L430.1,1025.9L430.4,1025.1L430.8,1023.7L431.1,1022.6L431.5,1021.4L431.8,1019.7L432.2,1018.3L432.5,1017.1L432.9,1016.0L433.2,1015.1L433.6,1014.0L433.9,1012.8L434.3,1012.0L434.6,1010.8L435.0,1009.7L435.3,1008.7L435.7,1007.3L436.1,1005.9L436.4,1004.9L436.8,1003.7L437.1,1002.5L437.5,1001.4L437.8,1000.0L438.2,999.0L438.5,998.5L438.9,997.5L439.3,996.1L439.6,994.7L440.0,993.7L440.3,992.5L440.7,990.9L441.0,989.6L441.4,988.7L441.8,987.7L442.1,986.9L442.5,985.9L442.8,984.7L443.2,983.7L443.6,982.4L443.9,981.1L444.3,980.2L444.7,979.2L445.0,977.9L445.4,976.5L445.7,975.0L446.1,973.6L446.5,973.0L446.8,972.3L447.2,970.9L447.6,969.7L447.9,968.6L448.3,967.5L448.7,966.4L449.0,965.2L449.4,963.8L449.8,962.7L450.1,962.0L450.5,960.9L450.9,959.4L451.2,957.9L451.6,956.4L452.0,955.0L452.3,953.9L452.7,953.1L453.1,952.4L453.4,952.0L453.8,951.1L454.2,949.5L454.6,947.8L454.9,946.4L455.3,945.4L455.7,944.6L456.1,943.1L456.4,941.6L456.8,941.1L457.2,940.4L457.6,939.3L458.0,938.3L458.3,937.1L458.7,935.3L459.1,933.8L459.5,933.1L459.9,932.6L460.2,931.2L460.6,929.6L461.0,928.5L461.4,927.6L461.8,926.1L462.2,924.9L462.6,924.1L462.9,922.9L463.3,921.7L463.7,920.9L464.1,919.9L464.5,918.4L464.9,916.9L465.3,916.1L465.7,915.2L466.1,913.9L466.5,912.7L466.9,911.6L467.3,910.3L467.7,908.6L468.1,907.4L468.5,906.5L468.9,905.8L469.3,904.9L469.7,903.7L470.1,902.3L470.5,901.4L470.9,900.4L471.3,899.2L471.7,897.8L472.1,896.4L472.5,895.6L472.9,894.9L473.4,893.6L473.8,892.4L474.2,891.4L474.6,890.0L475.0,888.5L475.4,887.1L475.9,886.2L476.3,885.3L476.7,884.4L477.1,883.4L477.6,882.0L478.0,880.7L478.4,879.9L478.8,878.9L479.3,878.0L479.7,876.9L480.1,875.1L480.6,873.7L481.0,872.7L481.4,871.6L481.9,870.4L482.3,869.7L482.8,868.8L483.2,867.4L483.6,866.2L484.1,865.0L484.5,863.7L485.0,862.3L485.4,861.0L485.9,860.5L486.3,860.2L486.8,859.1L487.2,857.8L487.7,856.5L488.2,855.3L488.6,854.3L489.1,853.0L489.5,851.8L490.0,851.0L490.5,850.3L490.9,849.2L491.4,847.9L491.9,846.6L492.4,845.6L492.8,844.6L493.3,843.4L493.8,842.2L494.3,841.0L494.7,839.5L495.2,838.5L495.7,837.8L496.2,836.5L496.7,835.1L497.2,834.2L497.7,833.7L498.2,832.7L498.6,831.2L499.1,829.7L499.6,828.5L500.1,827.6L500.6,826.9L501.1,825.8L501.6,824.6L502.2,823.7L502.7,822.7L503.2,821.1L503.7,820.1L504.2,819.1L504.7,817.9L505.2,816.9L505.8,815.6L506.3,814.4L506.8,813.6L507.3,812.6L507.9,811.2L508.4,810.2L508.9,809.8L509.4,808.8L510.0,807.3L510.5,806.1L511.1,804.8L511.6,803.6L512.2,802.6L512.7,801.8L513.3,801.0L513.8,800.1L514.4,798.9L514.9,797.4L515.5,796.2L516.1,795.4L516.6,794.7L517.1,793.5L517.6,791.9L518.2,790.7L518.7,789.7L519.2,788.9L519.7,787.9L520.2,786.7L520.8,785.5L521.3,784.8L521.9,784.2L522.4,783.0L523.0,781.9L523.7,780.9L524.3,779.7L525.1,778.7L525.9,777.5L526.9,776.4L527.9,776.2L528.9,776.4L530.0,775.7L531.0,774.1L532.0,772.9L532.9,772.6L533.8,772.5L534.7,771.7L535.6,770.5L536.5,769.1L537.4,767.9L538.3,767.7L539.3,768.0L540.3,767.5L541.3,766.2L542.3,765.6L543.3,765.6L544.4,765.0L545.4,763.6L546.5,763.0L547.5,763.1L548.6,762.8L549.6,761.9L550.7,760.9L551.8,760.0L552.9,759.7L553.9,759.7L555.0,759.3L556.1,758.6L557.2,757.9L558.3,757.5L559.4,757.3L560.5,757.0L561.6,756.4L562.7,755.7L563.8,755.4L565.0,755.1L566.1,754.3L567.2,753.7L568.3,753.4L569.5,753.0L570.6,752.6L571.7,752.4L572.8,752.4L574.0,751.9L575.1,750.9L576.2,750.3L577.4,750.0L578.5,749.5L579.6,749.0L580.8,749.2L581.9,749.4L583.0,748.7L584.2,748.0L585.3,747.4L586.5,746.8L587.6,746.7L588.7,746.7L589.9,746.4L591.0,745.8L592.2,745.4L593.3,744.9L594.5,744.4L595.6,744.2L596.8,743.9L598.0,743.7L599.1,743.5L600.3,742.9L601.4,742.8L602.6,742.9L603.8,742.8L604.9,742.7L606.1,742.3L607.2,741.7L608.4,741.4L609.6,741.0L610.8,740.2L611.9,739.8L613.1,740.1L614.3,740.2L615.5,739.8L616.7,739.4L617.8,738.7L619.0,738.3L620.2,738.9L621.4,739.2L622.6,738.7L623.8,738.2L625.0,738.1L626.1,738.3L627.3,737.8L628.5,737.0L629.7,736.9L630.9,737.0L632.0,736.7L633.2,736.2L634.4,736.0L635.6,736.1L636.8,736.2L638.0,736.1L639.1,735.9L640.3,735.5L641.5,735.1L642.7,735.0L643.8,734.7L645.0,734.0L646.1,733.9L647.2,733.6L648.3,733.2L649.5,733.2L650.7,733.5L651.9,733.6L653.1,733.7L654.3,733.4L655.5,733.3L656.7,733.4L657.9,732.9L659.1,732.4L660.3,732.2L661.5,732.2L662.7,732.3L663.8,731.9L665.0,731.1L666.2,731.1L667.4,731.1L668.6,731.1L669.8,731.4L670.9,731.9L671.9,732.4L672.9,733.1L673.9,734.0L675.0,735.2L676.1,735.7L677.2,735.4L678.3,735.3L679.4,735.8L680.6,736.3L681.6,736.9L682.6,737.8L683.5,738.7L684.4,739.2L685.2,739.7L686.0,740.8L687.0,742.1L688.0,743.0L689.1,743.4L690.3,743.2L691.5,742.7L692.7,742.6L693.8,742.7L694.9,742.5L696.0,742.0L697.1,741.3L698.1,740.7L699.2,740.2L700.1,739.6L701.1,738.8L702.0,738.0L702.9,737.4L703.9,736.9L705.0,736.2L706.0,735.5L707.1,734.9L708.2,734.2L709.3,733.7L710.4,733.2L711.5,732.9L712.6,732.7L713.7,732.0L714.9,731.2L716.0,730.5L717.2,730.1L718.3,730.4L719.5,730.6L720.6,730.7L721.8,730.2L722.9,729.2L724.1,728.5L725.2,728.1L726.4,727.9L727.5,727.8L728.6,727.6L729.7,727.2L730.8,726.5L731.9,726.1L733.0,726.0L734.2,725.6L735.4,725.4L736.6,725.5L737.8,725.8L739.0,726.0L740.2,726.0L741.3,725.8L742.5,725.9L743.7,726.1L744.9,726.1L746.1,726.0L747.3,726.2L748.5,726.3L749.7,726.6L750.9,726.8L752.1,726.9L753.3,727.3L754.5,727.9L755.7,727.9L756.9,727.6L758.1,727.4L759.3,726.9L760.4,726.4L761.6,726.2L762.7,726.2L763.8,725.6L765.0,725.0L766.1,724.9L767.3,724.6L768.4,724.3L769.6,724.3L770.7,723.4L771.9,722.5L773.0,722.2L774.2,722.3L775.4,722.2L776.5,721.6L777.7,721.3L778.9,721.1L780.1,720.7L781.2,720.5L782.4,720.5L783.6,720.6L784.6,721.2L785.7,721.6L786.9,721.9L788.1,721.8L789.2,721.4L790.3,721.3L791.5,721.0L792.6,720.6L793.7,720.3L794.9,719.9L796.1,719.5L797.3,718.9L798.5,718.5L799.7,718.8L800.9,719.4L802.0,720.4L803.2,721.0L804.4,720.9L805.6,720.6L806.8,720.3L808.0,720.2L809.2,720.2L810.4,720.3L811.6,720.4L812.7,720.1L813.9,719.8L815.1,719.7L816.2,719.5L817.3,718.9L818.5,718.4L819.6,718.4L820.7,717.9L821.8,716.7L822.9,716.2L824.0,716.0L825.2,715.5L826.3,715.3L827.5,715.1L828.7,715.1L829.8,715.0L831.0,714.6L832.2,714.2L833.4,714.1L834.6,714.3L835.7,714.1L836.9,713.4L838.1,713.2L839.3,713.3L840.4,713.0L841.6,712.5L842.8,712.0L843.9,711.7L845.1,712.0L846.2,711.9L847.4,711.2L848.6,710.7L849.7,710.2L850.9,709.4L852.1,709.0L853.3,709.1L854.5,709.4L855.7,709.5L856.9,709.6L858.1,709.7L859.3,709.3L860.5,709.3L861.7,709.7L862.9,709.5L864.0,709.7L865.2,710.4L866.4,710.3L867.6,709.9L868.8,710.3L870.0,710.6L871.2,710.4L872.4,710.4L873.6,710.4L874.8,710.5L876.0,710.3L877.2,709.7L878.4,709.8L879.6,709.9L880.8,709.6L882.0,709.9L883.2,710.0L884.4,709.7L885.6,709.2L886.8,709.4L888.0,709.7L889.2,709.4L890.4,709.2L891.6,709.6L892.8,709.7L894.0,709.3L895.2,708.9L896.4,708.9L897.6,709.1L898.8,709.0L900.0,708.7L901.2,708.5L902.4,708.9L903.6,709.3L904.8,709.3L905.9,709.2L907.1,708.6L908.3,707.9L909.5,707.8L910.7,707.8L911.8,707.4L913.0,707.0L914.2,706.3L915.4,705.9L916.6,706.3L917.8,706.9L919.0,707.6L920.2,707.8L921.4,707.5L922.6,707.1L923.8,706.8L925.0,706.8L926.2,706.8L927.4,706.7L928.6,706.7L929.8,707.0L931.0,706.9L932.2,707.0L933.4,707.0L934.6,707.0L935.8,707.1L937.0,707.0L938.2,706.8L939.4,706.6L940.6,706.6L941.8,706.8L943.0,706.7L944.2,706.4L945.4,706.3L946.6,706.7L947.8,707.2L948.9,707.2L950.1,707.1L951.3,707.4L952.5,707.8L953.7,708.0L954.9,708.2L956.0,708.4L957.2,708.4L958.4,708.5L959.5,709.1L960.7,709.4L961.9,709.7L963.1,710.0L964.3,710.5L965.5,710.8L966.7,710.6L967.9,710.3L969.1,710.2L970.3,710.2L971.5,710.5L972.7,710.5L973.9,709.9L975.0,709.4L976.2,709.3L977.3,709.1L978.5,708.7L979.6,708.3L980.8,708.1L981.9,707.8L983.1,707.6L984.3,707.8L985.5,707.8L986.7,707.9L987.9,708.3L989.1,707.8L990.3,707.0L991.5,707.0L992.7,706.9L993.9,706.7L995.1,707.0L996.3,706.9L997.4,706.2L998.6,705.9L999.8,705.7L1000.9,705.6L1002.1,705.2L1003.2,704.6L1004.3,704.2L1005.5,704.0L1006.6,703.5L1007.7,702.7L1008.8,702.4L1009.9,702.5L1011.0,701.8L1012.1,701.0L1013.3,700.5L1014.4,700.4L1015.6,700.5L1016.7,700.1L1017.9,699.8L1019.0,699.3L1020.2,698.8L1021.4,698.6L1022.5,698.1L1023.7,697.7L1024.8,697.3L1026.0,696.8L1027.2,696.6L1028.3,696.4L1029.5,696.3L1030.7,696.7L1031.9,697.2L1033.1,697.5L1034.3,697.6L1035.5,697.7L1036.7,697.7L1037.9,697.4L1039.1,697.3L1040.3,697.5L1041.5,697.6L1042.6,697.2L1043.8,697.4L1045.0,697.6L1046.2,697.0L1047.4,696.7L1048.6,696.9L1049.8,696.8L1050.9,696.2L1052.1,696.1L1053.3,696.0L1054.5,695.2L1055.7,694.9L1056.9,695.4L1058.0,695.3L1059.2,695.1L1060.4,695.0L1061.6,694.1L1062.8,693.2L1064.0,693.2L1065.2,693.5L1066.3,693.4L1067.5,693.0L1068.7,692.8L1069.9,693.0L1071.1,692.7L1072.2,692.4L1073.4,692.2L1074.6,691.9L1075.7,691.5L1076.9,691.1L1078.1,690.8L1079.2,690.2L1080.4,689.6L1081.5,689.3L1082.7,689.2L1083.8,689.3L1084.9,689.1L1086.1,688.6L1087.2,687.9L1088.4,687.7L1089.5,687.1L1090.7,686.4L1091.8,686.6L1093.0,687.0L1094.1,686.5L1095.2,685.9L1096.4,686.0L1097.5,685.8L1098.7,685.2L1099.9,684.9L1101.0,684.4L1102.2,683.8L1103.4,683.8L1104.6,683.9L1105.8,684.0L1107.0,684.1L1108.2,684.1L1109.4,684.2L1110.6,684.4L1111.8,684.7L1113.0,685.4L1114.1,685.9L1115.3,685.6L1116.5,685.2L1117.7,685.5L1118.9,685.7L1120.1,685.8L1121.3,686.0L1122.5,686.2L1123.7,686.1L1124.9,685.2L1126.0,684.2L1127.2,684.1L1128.4,684.8L1129.6,685.1L1130.8,684.9L1132.0,684.8L1133.2,684.5L1134.3,684.0L1135.5,683.7L1136.7,683.6L1137.9,683.8L1139.1,683.5L1140.3,682.9L1141.5,682.8L1142.7,683.0L1143.9,682.6L1145.1,682.5L1146.3,682.5L1147.5,682.1L1148.7,682.5L1149.9,683.2L1151.1,683.1L1152.3,683.0L1153.5,682.8L1154.7,682.1L1155.9,681.7L1157.0,681.5L1158.2,681.6L1159.4,681.5L1160.6,681.1L1161.8,681.0L1163.0,681.0L1164.2,680.9L1165.3,680.5L1166.5,680.3L1167.7,680.6L1168.9,680.5L1170.1,680.2L1171.3,680.3L1172.5,679.9L1173.7,679.5L1174.9,679.7L1176.1,679.4L1177.3,679.1L1178.5,679.1L1179.7,679.0L1180.9,678.7L1182.0,678.4L1183.2,678.0L1184.4,677.8L1185.6,678.2L1186.8,678.6L1187.9,678.4L1189.1,677.9L1190.3,677.4L1191.5,677.4L1192.7,677.8L1193.9,678.3L1195.1,679.0L1196.3,679.2L1197.5,679.1L1198.7,678.3L1199.9,677.9L1201.1,678.5L1202.3,678.7L1203.5,678.3L1204.7,678.2L1205.9,678.6L1207.1,678.6L1208.3,678.2L1209.5,678.0L1210.7,678.3L1211.8,678.2L1213.0,677.5L1214.2,677.0L1215.4,676.7L1216.6,676.5L1217.8,676.6L1218.9,676.6L1220.1,676.1L1221.3,676.1L1222.5,676.3L1223.6,675.6L1224.8,675.2L1226.0,675.0L1227.2,674.7L1228.3,674.4L1229.5,674.2L1230.7,674.0L1231.9,673.7L1233.0,673.3L1234.2,673.0L1235.4,672.9L1236.6,672.5L1237.8,672.6L1239.0,672.9L1240.2,672.6L1241.3,672.2L1242.5,672.4L1243.7,672.6L1244.9,672.2L1246.1,671.4L1247.2,670.8L1248.4,670.4L1249.5,670.3L1250.7,670.5L1251.9,670.6L1253.0,670.4L1254.2,669.6L1255.4,668.7L1256.6,668.6L1257.8,668.9L1259.0,668.8L1260.2,668.5L1261.4,668.4L1262.6,668.7L1263.8,669.1L1265.0,668.8L1266.2,668.6L1267.4,668.5L1268.6,668.4L1269.8,668.2L1270.9,667.9L1272.1,667.3L1273.3,667.3L1274.5,667.7L1275.7,667.8L1276.9,667.3L1278.1,666.9L1279.3,666.9L1280.5,666.8L1281.7,666.5L1282.9,666.5L1284.1,666.6L1285.3,666.6L1286.5,666.5L1287.7,666.3L1288.9,665.9L1290.1,665.7L1291.3,666.1L1292.4,666.0L1293.6,666.1L1294.8,666.5L1296.0,666.2L1297.2,665.1L1298.4,664.3L1299.6,664.6L1300.8,665.1L1302.0,665.0L1303.2,664.7L1304.4,664.2L1305.6,663.7L1306.8,664.0L1308.0,664.2L1309.2,664.0L1310.3,663.8L1311.5,663.6L1312.7,663.2L1313.9,663.0L1315.1,663.0L1316.3,662.8L1317.5,663.0L1318.7,663.3L1319.9,663.1L1321.1,662.5L1322.3,662.3L1323.5,662.4L1324.6,662.1L1325.8,662.0L1327.0,662.1L1328.2,661.7L1329.4,661.2L1330.6,661.2L1331.8,661.4L1333.0,661.2L1334.2,661.0L1335.4,661.2L1336.6,661.2L1337.8,660.7L1339.0,660.3L1340.2,659.9L1341.4,660.1L1342.6,660.5L1343.8,660.3L1345.0,660.0L1346.2,659.9L1347.4,660.4L1348.6,660.9L1349.8,660.4L1351.0,660.0L1352.2,659.9L1353.4,659.4L1354.6,659.6L1355.8,659.9L1357.0,659.8L1358.2,659.6L1359.4,660.0L1360.6,660.3L1361.8,660.0L1363.0,659.8L1364.2,659.7L1365.4,659.9L1366.6,660.1L1367.8,660.0L1369.0,660.1L1370.2,660.3L1371.4,660.3L1372.6,660.2L1373.8,660.4L1374.9,660.5L1376.1,660.7L1377.3,660.6L1378.5,660.7L1379.7,661.4L1380.8,661.9L1381.9,662.0L1383.1,662.6L1384.2,663.2L1385.3,663.7L1386.3,664.2L1387.4,664.5L1388.5,665.0L1389.7,665.0L1390.9,664.6L1392.1,665.1L1393.3,665.7L1394.5,666.0L1395.7,666.0L1396.9,666.0L1398.1,665.7L1399.3,665.3L1400.5,665.3L1401.7,665.6L1402.9,665.9L1404.1,665.8L1405.3,665.1L1406.5,664.6L1407.7,664.9L1408.9,665.0L1410.0,663.9L1411.2,663.6L1412.4,664.2L1413.5,664.0L1414.6,663.6L1415.8,663.2L1416.9,662.5L1418.1,661.6L1419.2,661.1L1420.4,661.4L1421.5,661.3L1422.7,660.1L1423.9,659.9L1425.0,660.4L1426.2,660.3L1427.4,659.9L1428.6,659.9L1429.7,659.6L1430.9,658.9L1432.1,658.4L1433.3,658.1L1434.5,658.3L1435.7,659.0L1436.9,659.0L1438.1,658.3L1439.3,658.1L1440.5,658.5L1441.7,658.4L1442.9,658.1L1444.1,658.4L1445.3,658.8L1446.5,658.7L1447.7,658.1L1448.9,657.3L1450.1,657.1L1451.3,657.4L1452.5,657.7L1453.7,657.5L1454.9,657.3L1456.1,657.5L1457.3,657.8L1458.5,658.0L1459.7,657.7L1460.9,657.6L1462.1,657.6L1463.3,657.9L1464.5,658.4L1465.7,657.9L1466.9,657.4L1468.1,657.3L1469.3,657.0L1470.5,656.7L1471.7,656.9L1472.9,657.2L1474.0,657.1L1475.2,657.0L1476.4,657.0L1477.6,656.4L1478.8,655.9L1480.0,656.1L1481.2,656.2L1482.4,656.6L1483.6,656.7L1484.8,656.6L1486.0,656.6L1487.2,656.1L1488.4,655.7L1489.6,655.7L1490.8,655.7L1492.0,655.4L1493.2,655.2L1494.4,655.1L1495.6,654.9L1496.7,654.7L1497.9,654.5L1499.1,654.4L1500.3,654.4L1501.5,654.5L1502.7,654.4L1503.9,654.1L1505.1,653.8L1506.3,653.2L1507.5,653.1L1508.7,653.6L1509.9,653.3L1511.1,653.2L1512.3,653.4L1513.5,653.3L1514.7,653.1L1515.9,653.0L1517.1,653.0L1518.2,653.0L1519.4,652.6L1520.6,652.1L1521.8,652.1L1523.0,652.3L1524.2,651.9L1525.4,651.7L1526.6,652.0L1527.8,652.0L1529.0,651.6L1530.2,651.4L1531.4,651.4L1532.6,651.0L1533.8,650.5L1535.0,650.6L1536.2,650.9L1537.4,651.1L1538.6,651.1L1539.7,650.9L1540.9,650.7L1542.1,650.6L1543.3,650.5L1544.5,650.1L1545.7,650.1L1546.9,650.3L1548.1,650.3L1549.3,650.1L1550.5,649.7L1551.7,649.5L1552.9,649.7L1554.1,649.5L1555.3,649.5L1556.5,649.6L1557.7,649.4L1558.9,649.1L1560.0,648.8L1561.2,648.4L1562.4,648.2L1563.6,648.1L1564.8,647.9L1566.0,647.9L1567.2,648.4L1568.4,648.3L1569.6,648.1L1570.8,648.3L1572.0,648.4L1573.2,648.3L1574.4,648.5L1575.6,648.4L1576.8,648.2L1578.0,648.4L1579.2,648.4L1580.4,648.0L1581.6,647.8L1582.8,647.6L1584.0,647.8L1585.2,648.4L1586.4,648.4L1587.6,647.5L1588.8,647.4L1590.0,647.7L1591.2,647.3L1592.3,647.0L1593.5,647.0L1594.7,647.1L1595.9,647.3L1597.0,647.0L1598.2,646.3L1599.4,646.0L1600.6,645.6L1601.7,645.0L1602.9,644.5L1604.1,644.7L1605.3,645.2L1606.5,644.8L1607.7,644.1L1608.9,644.3L1610.1,644.9L1611.3,645.1L1612.5,644.9L1613.7,644.4L1614.9,644.2L1616.1,644.6L1617.3,645.2L1618.5,645.1L1619.7,645.1L1620.9,645.6L1622.1,645.5L1623.3,645.1L1624.5,645.2L1625.7,645.3L1626.9,645.3L1628.1,645.6L1629.3,645.6L1630.5,645.4L1631.7,645.7L1632.9,645.9L1634.1,645.6L1635.3,645.3L1636.5,644.8L1637.7,644.5L1638.9,644.4L1640.1,644.3L1641.3,644.3L1642.5,644.3L1643.7,644.1L1644.9,643.7L1646.1,644.0L1647.3,644.5L1648.5,644.0L1649.7,643.6L1650.8,643.6L1652.0,643.4L1653.2,643.4L1654.4,643.5L1655.6,643.4L1656.8,643.0L1658.0,643.0L1659.2,642.9L1660.4,642.2L1661.6,642.2L1662.7,642.4L1663.9,642.0L1665.1,641.8L1666.3,641.8L1667.5,641.4L1668.7,641.2L1669.9,641.6L1671.1,642.1L1672.3,642.1L1673.5,642.1L1674.7,642.1L1675.9,641.6L1677.1,641.7L1678.3,642.2L1679.5,642.3L1680.7,642.0L1681.9,641.7L1683.1,641.6L1684.3,641.6L1685.5,641.6L1686.7,641.4L1687.9,640.9L1689.1,640.2L1690.3,640.1L1691.5,640.2L1692.6,640.4L1693.8,640.2L1695.0,640.4L1696.2,640.7L1697.4,640.3L1698.6,639.9L1699.8,640.1L1701.0,640.2L1702.2,639.9L1703.4,639.6L1704.6,638.8L1705.8,638.3L1706.9,638.6L1708.1,638.7L1709.3,638.4L1710.5,638.4L1711.7,638.8L1712.9,638.6L1714.1,638.2L1715.3,638.4L1716.5,638.4L1717.7,638.6L1718.9,638.8L1720.1,638.5L1721.3,637.8L1722.5,637.9L1723.7,638.4L1724.9,638.3L1726.1,637.9L1727.3,637.6L1728.5,637.4L1729.7,637.2L1730.9,637.0L1732.1,636.9L1733.3,636.6L1734.5,636.8L1735.6,637.3L1736.8,637.1L1738.0,636.4L1739.2,635.9L1740.4,635.9L1741.6,635.9L1742.8,635.8L1743.9,635.5L1745.1,635.1L1746.3,635.0L1747.4,634.7L1748.6,634.2L1749.8,634.3L1751.0,634.4L1752.2,634.2L1753.4,634.0L1754.6,634.0L1755.8,634.2L1757.0,634.3L1758.2,633.9L1759.4,633.5L1760.6,633.5L1761.8,634.1L1763.0,634.5L1764.1,634.2L1765.3,634.1L1766.5,634.6L1767.7,635.0L1768.9,635.1L1770.1,635.2L1771.3,635.6L1772.5,635.4L1773.7,635.2L1774.9,635.6L1776.1,635.8L1777.3,636.0L1778.5,636.1L1779.7,635.7L1780.9,635.2L1782.1,635.2L1783.3,635.4L1784.4,635.3L1785.6,634.8L1786.8,634.4L1788.0,634.3L1789.2,633.9L1790.3,633.7L1791.5,633.7L1792.6,633.4L1793.8,633.0L1795.0,632.2L1796.1,631.3L1797.3,631.2L1798.5,631.5L1799.7,631.7L1800.9,631.7L1802.1,631.4L1803.3,631.7L1804.5,631.9L1805.7,631.6L1806.9,631.5L1808.1,631.2L1809.3,631.1L1810.5,631.2L1811.6,631.1L1812.8,631.4L1814.0,631.0L1815.2,630.2L1816.4,629.8L1817.6,629.7L1818.8,629.6L1819.9,629.4L1821.1,628.9L1822.3,628.6L1823.5,628.8L1824.7,629.2L1825.9,629.1L1827.1,628.7L1828.3,628.8L1829.5,628.8L1830.7,628.6L1831.9,628.5L1833.1,628.2L1834.3,628.0L1835.5,628.0L1836.7,628.2L1837.8,628.2L1839.0,627.9L1840.1,627.4L1841.2,627.0L1842.3,626.5L1843.4,626.3L1844.6,626.0L1845.8,625.5L1847.0,625.4L1848.2,625.6L1849.4,625.6L1850.6,625.5L1851.8,626.0L1853.0,626.5L1854.2,626.1L1855.4,625.3L1856.6,625.0L1857.8,624.9L1859.0,624.7L1860.2,625.1L1861.4,625.6L1862.6,625.4L1863.8,624.9L1865.0,624.9L1866.1,625.6L1867.3,626.3L1868.5,626.3L1869.7,625.9L1870.9,625.8L1872.1,625.9L1873.3,625.5L1874.5,625.1L1875.7,625.5L1876.9,626.0L1878.1,626.4L1879.3,626.7L1880.5,626.7L1881.7,626.6L1882.9,626.5L1884.1,626.6L1885.3,626.8L1886.5,627.1L1887.7,627.4L1888.8,627.6"/>
<path class="cv" stroke="#000000" d="M256.9,1457.7L258.0,1457.3L259.1,1456.7L260.2,1456.0L261.3,1455.4L262.3,1455.0L263.4,1454.3L264.5,1453.6L265.5,1453.5L266.6,1453.3L267.7,1452.4L268.7,1451.4L269.8,1450.8L270.8,1450.5L271.8,1449.8L272.9,1449.1L273.9,1448.3L274.9,1447.7L276.0,1447.2L277.0,1446.8L278.0,1446.4L279.0,1446.0L280.0,1445.4L281.0,1444.7L282.0,1444.1L283.0,1443.4L284.0,1442.5L285.0,1441.5L286.0,1440.5L287.0,1439.6L287.9,1439.1L288.8,1438.8L289.7,1438.2L290.6,1437.4L291.5,1436.5L292.4,1435.5L293.3,1434.6L294.2,1433.8L295.1,1433.0L296.0,1432.2L296.8,1431.4L297.7,1430.4L298.6,1429.6L299.4,1429.0L300.3,1428.1L301.1,1427.1L302.0,1426.2L302.8,1425.5L303.7,1424.5L304.5,1423.5L305.3,1422.7L306.2,1421.9L307.0,1421.3L307.8,1420.5L308.6,1419.4L309.4,1418.3L310.2,1417.5L311.1,1416.8L311.9,1415.9L312.7,1414.8L313.5,1413.7L314.3,1412.8L315.1,1412.0L315.9,1411.2L316.6,1410.6L317.4,1409.9L318.2,1408.9L319.0,1407.8L319.8,1406.6L320.6,1405.9L321.3,1405.1L322.1,1403.6L322.9,1402.4L323.6,1401.9L324.4,1401.7L325.2,1401.0L325.9,1399.8L326.7,1398.4L327.4,1397.4L328.2,1396.7L329.0,1396.2L329.7,1395.2L330.5,1393.8L331.2,1392.7L331.9,1392.3L332.7,1391.5L333.4,1390.2L334.2,1389.3L334.9,1388.5L335.7,1387.3L336.4,1386.3L337.1,1385.5L337.9,1384.6L338.6,1383.7L339.3,1382.6L340.0,1381.6L340.8,1380.6L341.5,1379.5L342.2,1378.8L342.9,1377.9L343.7,1376.6L344.4,1375.4L345.1,1374.5L345.8,1373.8L346.5,1372.8L347.3,1371.6L348.0,1370.5L348.7,1369.8L349.4,1369.3L350.1,1368.5L350.8,1367.5L351.5,1366.1L352.2,1364.9L352.9,1364.1L353.6,1363.3L354.3,1362.4L355.0,1361.1L355.7,1360.1L356.4,1359.1L357.1,1357.7L357.8,1356.7L358.5,1356.4L359.2,1355.8L359.9,1354.9L360.6,1353.7L361.3,1352.3L362.0,1351.3L362.6,1350.5L363.3,1349.4L364.0,1348.4L364.7,1347.6L365.4,1346.9L366.1,1345.9L366.7,1344.7L367.4,1343.7L368.1,1342.8L368.8,1341.8L369.4,1340.7L370.1,1339.5L370.8,1338.5L371.4,1337.5L372.1,1336.6L372.8,1335.6L373.4,1334.5L374.1,1333.6L374.7,1333.0L375.4,1332.1L376.0,1330.8L376.7,1329.9L377.3,1329.1L378.0,1328.1L378.6,1326.6L379.3,1325.4L379.9,1324.7L380.6,1323.7L381.2,1322.5L381.9,1321.4L382.5,1320.4L383.1,1319.4L383.8,1318.5L384.4,1317.6L385.0,1316.7L385.7,1315.7L386.3,1314.6L386.9,1313.5L387.5,1312.4L388.2,1311.2L388.8,1310.2L389.4,1309.5L390.0,1308.6L390.6,1307.2L391.3,1305.6L391.9,1304.6L392.5,1304.0L393.1,1303.2L393.7,1302.0L394.3,1300.7L394.9,1299.6L395.5,1298.6L396.2,1297.8L396.8,1297.0L397.4,1295.8L398.0,1294.5L398.6,1293.8L399.2,1292.9L399.8,1291.5L400.4,1290.3L401.0,1289.5L401.6,1288.6L402.2,1287.6L402.8,1286.5L403.4,1285.5L404.0,1284.6L404.6,1283.6L405.1,1282.5L405.7,1281.6L406.3,1280.4L406.9,1279.1L407.5,1278.2L408.1,1277.2L408.7,1276.1L409.3,1275.2L409.9,1274.1L410.5,1272.7L411.0,1271.5L411.6,1270.6L412.2,1269.6L412.8,1268.6L413.4,1267.9L414.0,1267.0L414.6,1265.5L415.1,1264.0L415.7,1262.9L416.3,1261.9L416.9,1261.1L417.5,1260.1L418.1,1259.0L418.6,1258.0L419.2,1257.1L419.8,1256.0L420.4,1254.9L421.0,1253.8L421.6,1252.8L422.1,1251.9L422.7,1250.9L423.3,1249.8L423.9,1248.7L424.5,1247.7L425.0,1246.5L425.6,1245.3L426.2,1244.2L426.8,1243.0L427.4,1242.0L428.0,1241.0L428.5,1240.0L429.1,1239.2L429.7,1238.3L430.3,1237.1L430.9,1236.0L431.4,1235.0L432.0,1234.2L432.6,1233.3L433.2,1232.1L433.8,1231.2L434.4,1230.3L434.9,1229.0L435.5,1227.7L436.1,1226.5L436.7,1225.6L437.3,1224.5L437.9,1223.7L438.4,1223.0L439.0,1221.8L439.6,1220.4L440.2,1219.3L440.8,1218.4L441.4,1217.4L441.9,1216.2L442.5,1215.0L443.1,1213.8L443.7,1213.0L444.3,1212.0L444.9,1210.8L445.4,1209.6L446.0,1208.6L446.6,1207.6L447.2,1206.4L447.8,1205.4L448.4,1204.5L449.0,1203.5L449.5,1202.6L450.1,1201.5L450.7,1200.4L451.3,1199.7L451.9,1198.9L452.5,1197.7L453.1,1196.3L453.6,1195.2L454.2,1194.2L454.8,1193.2L455.4,1192.1L456.0,1191.1L456.6,1190.2L457.2,1189.1L457.8,1187.9L458.3,1186.9L458.9,1185.8L459.5,1184.8L460.1,1183.9L460.7,1182.8L461.3,1181.6L461.9,1180.3L462.5,1179.2L463.0,1178.6L463.6,1177.8L464.2,1176.7L464.8,1175.5L465.4,1174.3L466.0,1173.2L466.6,1172.3L467.2,1171.0L467.8,1170.0L468.4,1169.3L468.9,1168.3L469.5,1167.3L470.1,1166.2L470.7,1165.4L471.3,1164.5L471.9,1163.1L472.5,1161.7L473.1,1160.5L473.7,1159.4L474.3,1158.5L474.9,1157.6L475.5,1156.6L476.1,1155.6L476.6,1154.6L477.2,1153.7L477.8,1152.7L478.4,1151.5L479.0,1150.5L479.6,1149.7L480.2,1148.5L480.8,1147.3L481.4,1146.2L482.0,1145.2L482.6,1144.2L483.2,1143.0L483.8,1141.7L484.4,1140.7L485.0,1139.8L485.6,1138.8L486.2,1137.9L486.8,1137.1L487.4,1136.0L488.0,1134.9L488.6,1133.4L489.2,1132.0L489.8,1131.5L490.4,1130.8L491.0,1129.6L491.6,1128.5L492.2,1127.7L492.8,1126.6L493.4,1125.3L494.0,1124.2L494.6,1123.0L495.2,1121.9L495.8,1121.3L496.4,1120.4L497.0,1119.2L497.6,1118.2L498.2,1117.3L498.8,1116.2L499.4,1114.9L500.0,1113.8L500.6,1112.8L501.2,1112.1L501.8,1111.0L502.4,1109.9L503.1,1109.2L503.7,1108.2L504.3,1106.8L504.9,1105.6L505.5,1104.6L506.1,1104.0L506.7,1103.1L507.3,1101.8L507.9,1100.8L508.5,1099.5L509.1,1098.0L509.7,1097.0L510.3,1096.2L510.8,1095.0L511.4,1093.9L512.0,1093.2L512.6,1092.3L513.2,1090.9L513.8,1089.7L514.3,1088.9L514.9,1088.1L515.5,1087.3L516.1,1086.3L516.7,1085.0L517.3,1083.9L517.9,1082.7L518.5,1081.5L519.1,1080.4L519.7,1079.4L520.3,1078.3L520.9,1077.5L521.5,1076.9L522.1,1075.9L522.7,1074.5L523.3,1073.5L523.9,1072.3L524.5,1070.9L525.1,1070.0L525.7,1069.4L526.3,1068.5L526.9,1067.1L527.5,1065.9L528.2,1065.2L528.8,1064.1L529.4,1062.8L530.0,1061.9L530.6,1061.1L531.2,1060.1L531.8,1058.8L532.5,1057.6L533.2,1056.7L533.9,1055.7L534.7,1054.7L535.4,1053.9L536.3,1053.0L537.1,1052.2L537.9,1051.6L538.8,1051.1L539.7,1050.2L540.6,1049.2L541.5,1048.6L542.4,1047.7L543.4,1046.8L544.3,1045.9L545.3,1045.2L546.3,1044.7L547.3,1044.0L548.3,1043.0L549.2,1042.7L550.2,1042.4L551.2,1041.5L552.2,1040.4L553.2,1039.7L554.1,1039.0L555.1,1038.6L556.1,1038.0L557.1,1037.0L558.1,1036.2L559.1,1036.0L560.0,1035.5L561.0,1034.7L562.0,1034.0L563.0,1032.9L564.0,1032.1L565.0,1031.7L566.0,1031.0L567.1,1030.4L568.2,1029.9L569.3,1029.6L570.4,1029.2L571.5,1028.5L572.7,1027.8L573.8,1027.5L574.9,1027.4L576.1,1027.2L577.2,1026.8L578.3,1026.7L579.4,1026.3L580.5,1025.8L581.7,1025.5L582.8,1025.2L583.9,1024.6L585.0,1023.8L586.1,1023.2L587.2,1023.0L588.4,1022.6L589.5,1022.0L590.6,1021.5L591.7,1021.1L592.8,1020.8L593.9,1020.3L595.0,1019.7L596.2,1019.2L597.3,1018.6L598.4,1018.2L599.5,1017.9L600.6,1017.2L601.7,1016.8L602.8,1016.6L603.9,1016.3L605.1,1015.8L606.2,1015.0L607.3,1014.5L608.4,1014.1L609.6,1013.7L610.7,1013.5L611.9,1013.4L613.0,1013.4L614.2,1013.2L615.3,1012.5L616.4,1012.0L617.5,1011.4L618.7,1011.0L619.8,1010.9L620.9,1010.4L622.0,1009.7L623.2,1008.9L624.3,1008.5L625.4,1008.3L626.5,1008.0L627.6,1007.6L628.7,1006.9L629.8,1006.3L630.9,1005.9L632.0,1005.4L633.0,1004.9L634.1,1004.4L635.2,1003.6L636.2,1003.2L637.3,1002.7L638.4,1002.3L639.5,1002.0L640.6,1001.1L641.7,1000.5L642.8,1000.3L643.9,999.8L645.1,999.4L646.2,999.2L647.4,998.7L648.5,998.2L649.7,997.8L650.8,997.5L651.9,997.2L653.1,996.9L654.2,996.7L655.4,996.2L656.5,995.7L657.7,995.4L658.8,995.2L660.0,994.9L661.2,994.7L662.4,994.6L663.6,994.5L664.8,994.3L665.9,994.3L667.1,994.3L668.3,994.1L669.5,993.9L670.7,993.7L671.9,993.9L673.1,994.0L674.3,993.6L675.5,993.3L676.7,993.1L677.9,993.1L679.1,993.3L680.3,993.3L681.5,993.3L682.7,993.4L683.9,993.7L685.1,993.9L686.3,993.8L687.5,993.8L688.7,993.9L689.9,993.8L691.1,993.9L692.3,994.1L693.5,994.6L694.7,995.0L695.8,994.7L697.0,994.7L698.2,995.1L699.4,995.4L700.5,996.0L701.7,996.5L702.9,996.5L704.1,996.4L705.2,996.7L706.4,997.1L707.6,997.7L708.7,998.2L709.9,998.3L711.1,998.5L712.3,998.7L713.5,998.7L714.7,998.6L715.9,998.7L717.1,998.6L718.3,998.5L719.5,998.5L720.6,998.7L721.8,998.7L723.0,998.0L724.2,997.5L725.4,997.7L726.6,997.5L727.8,996.9L728.9,996.6L730.1,996.5L731.3,996.5L732.5,996.3L733.6,996.0L734.8,995.9L736.0,995.7L737.1,995.3L738.3,994.7L739.5,994.4L740.7,994.3L741.8,994.1L743.0,994.0L744.2,993.9L745.4,993.6L746.6,993.5L747.8,993.3L748.9,992.6L750.1,992.2L751.3,992.3L752.5,992.4L753.7,992.3L754.9,992.1L756.1,992.0L757.2,991.7L758.4,991.3L759.6,991.1L760.8,990.9L762.0,990.8L763.2,990.9L764.4,990.6L765.5,990.2L766.7,989.9L767.9,989.6L769.1,989.5L770.3,989.6L771.5,989.8L772.7,989.6L773.9,989.1L775.0,988.8L776.2,988.6L777.4,988.3L778.6,988.3L779.8,988.2L781.0,988.2L782.2,988.0L783.3,987.6L784.5,987.2L785.7,987.2L786.9,987.3L788.1,987.5L789.3,987.2L790.5,986.8L791.7,986.6L792.8,986.6L794.0,986.2L795.2,985.8L796.4,985.6L797.6,985.6L798.8,985.7L800.0,985.9L801.2,985.7L802.4,985.3L803.6,985.0L804.8,984.8L806.0,985.1L807.2,985.3L808.4,985.3L809.6,985.2L810.8,985.2L812.0,985.3L813.2,985.4L814.4,985.5L815.6,985.7L816.8,985.8L818.0,985.8L819.2,985.9L820.4,986.2L821.6,986.6L822.8,986.8L823.9,986.8L825.1,987.0L826.3,987.4L827.4,987.7L828.6,988.1L829.7,988.5L830.9,988.6L832.0,988.5L833.2,988.6L834.4,989.2L835.5,989.8L836.7,990.2L837.8,990.3L839.0,990.5L840.1,990.9L841.3,991.4L842.5,991.8L843.6,992.0L844.8,992.2L846.0,992.2L847.2,992.2L848.4,992.5L849.6,992.8L850.8,993.0L852.0,993.4L853.2,993.4L854.4,993.1L855.6,993.1L856.8,993.0L858.0,992.8L859.2,992.9L860.4,993.4L861.6,993.7L862.8,993.8L864.0,993.8L865.1,994.1L866.3,994.6L867.5,994.5L868.7,993.9L869.9,994.0L871.1,994.7L872.3,994.8L873.5,994.9L874.6,995.5L875.8,996.1L877.0,996.0L878.2,996.0L879.4,996.2L880.5,996.3L881.7,996.2L882.9,996.4L884.1,996.6L885.3,996.7L886.5,997.0L887.7,997.2L888.9,997.1L890.0,997.1L891.2,997.6L892.4,998.0L893.6,998.0L894.8,998.1L896.0,997.9L897.2,997.9L898.4,998.5L899.5,998.9L900.7,999.1L901.9,999.5L903.1,1000.1L904.2,1000.3L905.4,1000.2L906.5,1000.6L907.7,1001.2L908.8,1001.5L910.0,1001.6L911.1,1002.1L912.3,1002.6L913.5,1002.8L914.7,1003.0L915.8,1003.3L917.0,1003.5L918.2,1003.3L919.4,1003.3L920.6,1003.5L921.8,1003.6L923.0,1003.5L924.2,1003.2L925.4,1003.1L926.6,1003.4L927.8,1003.7L929.0,1003.7L930.2,1003.6L931.4,1003.6L932.6,1003.5L933.8,1003.2L935.0,1003.0L936.2,1003.0L937.4,1003.0L938.6,1002.8L939.7,1002.7L940.9,1002.2L942.1,1001.4L943.2,1000.9L944.4,1000.7L945.5,1000.7L946.7,1000.8L947.8,1000.5L948.9,1000.1L950.0,999.4L951.2,998.6L952.3,998.2L953.4,997.9L954.5,997.3L955.7,997.0L956.8,997.0L957.9,996.8L959.0,996.2L960.2,995.5L961.3,994.9L962.4,994.6L963.6,994.3L964.7,993.7L965.8,993.2L966.9,993.0L968.0,992.5L969.2,992.0L970.3,991.8L971.4,991.5L972.5,991.0L973.7,990.3L974.8,989.8L975.9,989.2L977.0,988.9L978.1,988.8L979.3,988.0L980.4,987.5L981.5,987.6L982.6,987.2L983.7,986.6L984.8,986.3L986.0,985.7L987.1,985.2L988.2,984.8L989.3,984.2L990.5,983.9L991.6,983.8L992.8,983.5L993.9,983.2L995.1,983.1L996.2,982.9L997.4,982.6L998.5,982.2L999.7,981.6L1000.9,981.1L1002.0,980.7L1003.2,980.2L1004.3,979.6L1005.5,979.5L1006.7,979.5L1007.8,979.4L1009.0,979.2L1010.1,978.8L1011.3,978.4L1012.5,978.3L1013.6,978.0L1014.8,977.4L1016.0,977.0L1017.1,977.1L1018.3,976.9L1019.4,976.2L1020.6,975.8L1021.7,975.5L1022.7,975.0L1023.8,974.3L1024.9,973.6L1025.9,972.9L1027.0,972.0L1028.1,971.6L1029.1,971.4L1030.2,970.7L1031.3,970.0L1032.3,969.7L1033.4,969.1L1034.5,968.4L1035.5,967.8L1036.6,967.3L1037.7,966.8L1038.8,966.7L1039.9,966.6L1041.1,966.2L1042.2,965.6L1043.3,965.0L1044.4,964.3L1045.6,963.6L1046.7,963.4L1047.9,963.4L1049.1,963.2L1050.2,962.8L1051.4,962.6L1052.6,962.6L1053.8,962.8L1054.9,963.3L1056.1,963.8L1057.2,964.3L1058.3,964.7L1059.5,964.9L1060.7,965.0L1061.9,965.1L1063.1,965.3L1064.3,965.6L1065.5,965.7L1066.6,965.7L1067.8,965.8L1069.0,965.8L1070.2,965.7L1071.4,965.9L1072.6,966.0L1073.8,966.0L1075.0,965.9L1076.2,965.5L1077.4,965.3L1078.6,965.5L1079.8,965.6L1081.0,965.3L1082.2,965.2L1083.4,965.4L1084.6,965.4L1085.8,965.2L1087.0,965.2L1088.2,965.3L1089.4,965.1L1090.6,965.0L1091.8,965.0L1093.0,965.3L1094.2,965.3L1095.4,964.8L1096.6,964.4L1097.8,964.2L1099.0,964.3L1100.2,964.5L1101.4,964.5L1102.6,964.4L1103.8,964.4L1105.0,964.5L1106.2,964.2L1107.4,963.7L1108.6,963.8L1109.7,963.9L1110.9,963.5L1112.1,963.1L1113.3,963.1L1114.5,963.0L1115.6,962.4L1116.8,962.1L1118.0,962.2L1119.2,961.9L1120.4,961.9L1121.6,962.2L1122.8,962.0L1124.0,961.8L1125.2,961.9L1126.4,961.9L1127.6,961.9L1128.8,961.9L1130.0,962.1L1131.2,962.3L1132.4,962.6L1133.6,962.8L1134.8,962.9L1135.9,963.1L1137.1,963.2L1138.3,963.2L1139.5,963.4L1140.7,963.5L1141.8,963.5L1143.0,964.0L1144.2,964.3L1145.4,964.3L1146.6,964.6L1147.8,964.8L1149.0,964.7L1150.2,964.5L1151.4,964.3L1152.6,964.1L1153.8,963.9L1155.0,963.9L1156.2,963.9L1157.4,963.9L1158.6,964.2L1159.8,964.4L1161.0,964.4L1162.2,964.0L1163.4,963.6L1164.6,963.7L1165.8,963.9L1167.0,963.8L1168.2,964.0L1169.4,964.3L1170.6,964.4L1171.8,964.5L1173.0,964.5L1174.2,964.7L1175.4,964.8L1176.6,964.6L1177.8,964.4L1179.0,964.3L1180.2,964.4L1181.4,964.7L1182.6,964.9L1183.8,964.6L1185.0,964.4L1186.2,964.4L1187.4,964.5L1188.6,964.8L1189.8,964.9L1191.0,964.7L1192.2,964.7L1193.4,964.7L1194.6,964.5L1195.8,964.3L1197.0,964.3L1198.2,964.5L1199.4,964.8L1200.6,964.6L1201.8,964.3L1203.0,964.1L1204.2,963.6L1205.4,963.3L1206.6,963.3L1207.8,963.5L1209.0,963.9L1210.2,963.8L1211.4,963.8L1212.5,964.1L1213.7,964.4L1214.9,964.7L1216.1,965.0L1217.3,965.2L1218.4,965.3L1219.6,965.6L1220.7,965.9L1221.9,966.2L1223.0,966.9L1224.2,967.5L1225.3,967.7L1226.5,968.0L1227.6,968.5L1228.8,968.7L1230.0,968.6L1231.2,968.8L1232.3,969.1L1233.5,969.5L1234.7,969.9L1235.9,970.0L1237.0,970.1L1238.2,970.0L1239.4,970.1L1240.6,970.8L1241.7,971.3L1242.9,971.6L1244.1,971.8L1245.2,972.1L1246.4,972.3L1247.5,972.7L1248.6,973.5L1249.7,974.0L1250.8,974.1L1251.9,974.5L1253.0,975.0L1254.1,975.6L1255.2,976.0L1256.3,976.2L1257.4,976.5L1258.5,977.3L1259.6,978.1L1260.7,978.4L1261.8,978.8L1262.9,979.6L1264.0,980.4L1265.1,980.8L1266.2,981.2L1267.3,981.7L1268.3,981.8L1269.4,982.1L1270.5,982.8L1271.6,983.1L1272.7,983.4L1273.8,984.3L1275.0,984.9L1276.1,984.9L1277.2,985.4L1278.4,986.0L1279.5,986.4L1280.7,986.8L1281.8,987.1L1283.0,987.4L1284.1,987.8L1285.3,988.1L1286.4,988.4L1287.6,988.8L1288.8,989.2L1289.9,989.4L1291.1,989.6L1292.3,989.9L1293.4,990.3L1294.6,990.7L1295.7,990.9L1296.9,991.1L1298.1,991.1L1299.3,991.2L1300.5,991.7L1301.6,991.9L1302.8,991.9L1304.0,992.0L1305.2,992.5L1306.4,993.1L1307.6,993.1L1308.8,992.8L1310.0,992.8L1311.2,993.1L1312.4,993.3L1313.5,993.3L1314.7,993.3L1315.9,993.8L1317.1,994.3L1318.2,994.3L1319.4,994.6L1320.6,994.9L1321.7,995.2L1322.9,995.8L1324.0,996.1L1325.2,996.2L1326.4,996.3L1327.5,996.7L1328.7,997.2L1329.9,997.4L1331.0,997.4L1332.2,997.6L1333.4,997.7L1334.5,997.9L1335.7,998.5L1336.9,998.9L1338.1,999.2L1339.3,999.3L1340.4,999.5L1341.6,1000.1L1342.8,1000.1L1344.0,999.8L1345.2,1000.1L1346.4,1000.5L1347.5,1000.8L1348.7,1001.1L1349.9,1001.3L1351.1,1001.4L1352.2,1001.4L1353.4,1001.7L1354.6,1002.2L1355.8,1002.3L1357.0,1002.4L1358.1,1002.7L1359.3,1003.0L1360.5,1003.3L1361.7,1003.6L1362.9,1003.7L1364.0,1004.1L1365.2,1004.3L1366.4,1004.2L1367.6,1004.3L1368.8,1004.4L1370.0,1004.4L1371.2,1004.4L1372.4,1004.4L1373.5,1004.8L1374.7,1005.5L1375.9,1005.7L1377.1,1005.9L1378.3,1006.1L1379.5,1005.7L1380.7,1005.6L1381.9,1006.1L1383.1,1006.5L1384.3,1006.3L1385.5,1006.2L1386.7,1006.2L1387.9,1006.1L1389.1,1006.1L1390.3,1006.0L1391.5,1005.7L1392.7,1005.6L1393.9,1005.9L1395.1,1005.8L1396.3,1005.4L1397.5,1005.4L1398.7,1005.4L1399.8,1004.9L1401.0,1004.4L1402.2,1004.3L1403.4,1004.3L1404.5,1004.0L1405.7,1003.7L1406.9,1003.5L1408.0,1003.1L1409.2,1002.7L1410.3,1002.3L1411.5,1002.0L1412.7,1001.9L1413.8,1001.7L1415.0,1001.2L1416.2,1000.9L1417.3,1000.8L1418.5,1000.6L1419.7,1000.1L1420.8,999.9L1422.0,999.9L1423.2,999.4L1424.3,998.9L1425.5,998.7L1426.6,998.3L1427.8,997.6L1428.9,997.1L1430.0,996.7L1431.1,996.4L1432.2,996.2L1433.3,995.9L1434.4,995.2L1435.5,994.6L1436.6,994.1L1437.7,993.7L1438.8,993.4L1440.0,993.1L1441.1,992.6L1442.2,992.5L1443.4,992.2L1444.5,991.5L1445.7,991.1L1446.8,990.8L1448.0,990.7L1449.2,990.4L1450.3,989.8L1451.5,989.4L1452.7,989.2L1453.8,989.1L1455.0,989.2L1456.2,988.7L1457.4,988.0L1458.5,988.0L1459.7,988.3L1460.9,988.2L1462.1,987.7L1463.3,987.2L1464.5,986.8L1465.7,986.6L1466.9,986.7L1468.1,987.0L1469.3,987.0L1470.5,986.9L1471.7,986.6L1472.9,986.4L1474.0,986.4L1475.2,986.7L1476.4,987.5L1477.5,988.3L1478.6,988.6L1479.7,988.8L1480.8,989.4L1481.9,989.7L1483.1,989.9L1484.3,990.4L1485.5,990.5L1486.6,990.3L1487.8,990.5L1489.0,990.5L1490.2,990.4L1491.4,990.7L1492.6,991.0L1493.8,991.1L1495.0,991.2L1496.2,991.0L1497.4,991.0L1498.6,991.4L1499.8,991.8L1501.0,991.8L1502.2,991.5L1503.4,991.4L1504.6,991.7L1505.8,992.1L1507.0,992.4L1508.2,992.5L1509.4,992.5L1510.5,992.7L1511.7,993.0L1512.9,993.0L1514.1,992.9L1515.3,993.0L1516.5,993.3L1517.7,993.7L1518.9,993.8L1520.1,993.7L1521.3,993.8L1522.5,993.8L1523.7,993.8L1524.9,993.9L1526.1,993.7L1527.3,993.8L1528.5,994.2L1529.7,994.1L1530.9,993.8L1532.1,994.2L1533.3,994.5L1534.5,994.3L1535.7,994.3L1536.9,994.2L1538.1,994.1L1539.3,993.9L1540.5,993.6L1541.6,993.4L1542.8,993.2L1544.0,993.2L1545.2,993.2L1546.3,992.9L1547.5,992.5L1548.7,992.1L1549.9,991.8L1551.1,991.6L1552.3,991.6L1553.5,991.4L1554.6,991.1L1555.8,990.8L1557.0,990.4L1558.2,990.3L1559.4,990.5L1560.6,990.3L1561.8,990.1L1563.0,990.2L1564.1,990.0L1565.3,989.7L1566.5,989.4L1567.7,989.2L1568.9,989.1L1570.1,989.2L1571.3,989.1L1572.5,988.8L1573.6,988.5L1574.8,988.2L1576.0,988.1L1577.2,988.0L1578.4,987.6L1579.5,987.6L1580.7,987.5L1581.9,987.0L1583.0,986.5L1584.2,986.2L1585.3,985.9L1586.4,985.6L1587.6,985.2L1588.7,984.5L1589.9,984.2L1591.0,984.2L1592.1,983.7L1593.3,983.0L1594.4,982.7L1595.6,982.6L1596.7,982.0L1597.9,981.3L1599.0,980.9L1600.2,980.8L1601.3,980.7L1602.5,980.4L1603.6,979.8L1604.8,979.5L1606.0,979.5L1607.1,979.0L1608.3,978.7L1609.4,978.5L1610.6,978.1L1611.8,978.0L1613.0,978.0L1614.1,977.8L1615.3,977.6L1616.5,977.4L1617.7,977.0L1618.9,976.8L1620.0,976.6L1621.2,976.1L1622.4,975.6L1623.6,975.7L1624.8,975.5L1626.0,975.5L1627.2,975.9L1628.4,975.9L1629.6,975.4L1630.8,975.3L1632.0,975.5L1633.2,975.4L1634.4,975.5L1635.6,976.0L1636.8,975.9L1638.0,975.5L1639.2,975.3L1640.4,974.9L1641.6,974.6L1642.8,974.6L1644.0,974.9L1645.2,975.1L1646.4,975.2L1647.6,975.6L1648.8,975.7L1650.0,975.2L1651.2,974.7L1652.4,974.7L1653.6,974.9L1654.8,975.0L1656.0,975.1L1657.2,975.3L1658.4,975.2L1659.6,974.8L1660.8,974.6L1662.0,974.7L1663.2,974.9L1664.4,975.1L1665.6,974.9L1666.8,974.5L1668.0,974.6L1669.2,975.0L1670.4,975.3L1671.6,975.6L1672.8,975.9L1674.0,976.2L1675.2,976.1L1676.4,976.1L1677.6,976.0L1678.8,975.6L1680.0,975.6L1681.2,976.1L1682.4,976.3L1683.6,975.8L1684.8,975.7L1685.9,976.0L1687.1,976.0L1688.3,975.7L1689.5,975.4L1690.7,975.4L1691.8,975.5L1693.0,975.2L1694.2,974.6L1695.4,974.6L1696.6,974.8L1697.8,974.7L1699.0,974.8L1700.2,974.7L1701.4,974.0L1702.6,973.7L1703.7,973.7L1704.9,973.5L1706.1,973.3L1707.3,973.2L1708.5,973.4L1709.6,973.2L1710.8,972.6L1712.0,972.0L1713.2,972.0L1714.4,972.2L1715.5,971.8L1716.7,971.1L1717.9,970.8L1719.1,970.9L1720.3,971.2L1721.5,971.1L1722.7,970.7L1723.9,970.9L1725.1,970.7L1726.2,970.5L1727.4,970.7L1728.6,970.5L1729.8,970.1L1731.0,969.9L1732.2,969.6L1733.4,969.6L1734.6,969.4L1735.8,969.5L1737.0,969.5L1738.2,969.0L1739.4,968.6L1740.6,968.9L1741.8,969.1L1743.0,968.9L1744.1,968.5L1745.3,968.1L1746.5,967.8L1747.7,967.6L1748.9,967.4L1750.1,967.3L1751.3,967.0L1752.4,967.2L1753.6,966.9L1754.8,966.4L1756.0,966.6L1757.2,966.4L1758.4,966.0L1759.6,965.6L1760.7,965.4L1761.9,965.2L1763.1,964.6L1764.3,964.3L1765.4,964.3L1766.6,964.1L1767.8,964.1L1769.0,964.2L1770.2,964.1L1771.4,964.2L1772.6,964.4L1773.8,964.3L1775.0,964.3L1776.2,964.1L1777.4,963.6L1778.6,963.2L1779.8,963.2L1781.0,963.3L1782.2,963.5L1783.4,963.6L1784.6,963.7L1785.8,963.9L1787.0,964.1L1788.2,963.7L1789.4,963.1L1790.6,963.4L1791.8,963.8L1793.0,963.8L1794.2,963.8L1795.4,963.8L1796.6,963.8L1797.8,963.9L1799.0,964.1L1800.2,963.9L1801.4,963.5L1802.6,963.5L1803.8,963.7L1805.0,963.6L1806.2,963.5L1807.4,963.2L1808.6,962.9L1809.7,962.8L1810.9,962.6L1812.1,962.5L1813.3,962.1L1814.5,961.6L1815.7,961.6L1816.9,962.1L1818.1,962.0L1819.2,961.3L1820.4,960.8L1821.6,960.9L1822.8,961.0L1824.0,961.1L1825.2,960.9L1826.4,960.8L1827.6,960.8L1828.8,960.8L1830.0,961.0L1831.2,961.2L1832.4,960.8L1833.6,960.7L1834.8,960.8L1836.0,960.3L1837.2,960.3L1838.4,960.5L1839.6,960.5L1840.8,960.4L1842.0,960.1L1843.2,960.3L1844.4,960.5L1845.6,960.3L1846.8,960.3L1848.0,960.6L1849.2,960.6L1850.4,960.5L1851.6,960.4L1852.8,960.4L1854.0,960.6L1855.2,960.7L1856.4,960.6L1857.6,961.0L1858.8,961.1L1860.0,961.1L1861.2,961.2L1862.4,961.0L1863.6,961.0L1864.8,961.1L1866.0,961.4L1867.2,961.8L1868.4,962.4L1869.5,962.6L1870.7,962.4L1871.9,962.9L1873.1,963.4L1874.3,963.2L1875.5,963.2L1876.6,963.6L1877.8,964.1L1878.9,964.5L1880.1,964.6L1881.3,964.5L1882.5,964.8L1883.7,965.3L1884.9,965.1L1886.1,964.6L1887.3,964.7L1888.5,964.9L1889.7,964.6L1890.9,964.1L1892.1,964.2L1893.2,964.2"/>
</g>
<g class="tick" text-anchor="end">
<text transform="translate(215.7,1475.5) scale(1,1.04)">0.0</text>
<text transform="translate(215.7,1333.2) scale(1,1.04)">0.2</text>
<text transform="translate(215.7,1191.0) scale(1,1.04)">0.4</text>
<text transform="translate(215.7,1048.7) scale(1,1.04)">0.6</text>
<text transform="translate(215.7,906.4) scale(1,1.04)">0.8</text>
<text transform="translate(215.7,764.1) scale(1,1.04)">1.0</text>
<text transform="translate(215.7,621.9) scale(1,1.04)">1.2</text>
<text transform="translate(215.7,479.6) scale(1,1.04)">1.4</text>
<text transform="translate(215.7,337.3) scale(1,1.04)">1.6</text>
<text transform="translate(215.7,195.1) scale(1,1.04)">1.8</text>
<text transform="translate(215.7,52.8) scale(1,1.04)">2.0</text>
</g>
<g class="tick" text-anchor="middle">
<text transform="translate(263.7,1552.1) scale(1,1.04)">0</text>
<text transform="translate(548.0,1552.1) scale(1,1.04)">5</text>
<text transform="translate(832.4,1552.1) scale(1,1.04)">10</text>
<text transform="translate(1116.7,1552.1) scale(1,1.04)">15</text>
<text transform="translate(1401.0,1552.1) scale(1,1.04)">20</text>
<text transform="translate(1685.4,1552.1) scale(1,1.04)">25</text>
<text transform="translate(1969.7,1552.1) scale(1,1.04)">30</text>
</g>
<text class="ttl" text-anchor="middle" transform="translate(1196.1,1625.4) scale(1,1.02)">Compressive strain / <tspan class="it">%</tspan></text>
<text class="ttl" style="font-size:74.2px" text-anchor="middle" transform="translate(70.3,747.2) rotate(-90) scale(1,1.03)">Compressive stress / <tspan class="it">MPa</tspan></text>
<text class="lab" transform="translate(1531,218.4) scale(1,1.04)" style="fill:#0000ff">PS + 0.2 wt% BTA</text>
<text class="den" transform="translate(1531,309.4) scale(1,1.03)">77.8 ± 1.4 kg/m<tspan class="sup" dx="1.5" dy="-26.0">3</tspan></text>
<text class="lab" transform="translate(1529.3,448.6) scale(1,1.04)" style="fill:#808080">PS + 0.1 wt% BTA</text>
<text class="den" transform="translate(1529.3,539.7) scale(1,1.03)">72 .6 ± 0.5 kg/m<tspan class="sup" dx="1.5" dy="-26.0">3</tspan></text>
<text class="lab" transform="translate(1537.4,705.7) scale(1,1.04)" style="fill:#ff8000">PS + 0.5 wt% BTA</text>
<text class="den" transform="translate(1537.1,796.8) scale(1,1.03)">69.1 ± 1.3 kg/m<tspan class="sup" dx="1.5" dy="-26.0">3</tspan></text>
<text class="lab" transform="translate(1536.8,1043.9) scale(1,1.04)" style="fill:#000000">Neat PS</text>
<text class="den" transform="translate(1536.8,1134.7) scale(1,1.03)">52.3 ± 0.9 kg/m<tspan class="sup" dx="1.5" dy="-26.0">3</tspan></text>
</svg>
</body>
</html>
